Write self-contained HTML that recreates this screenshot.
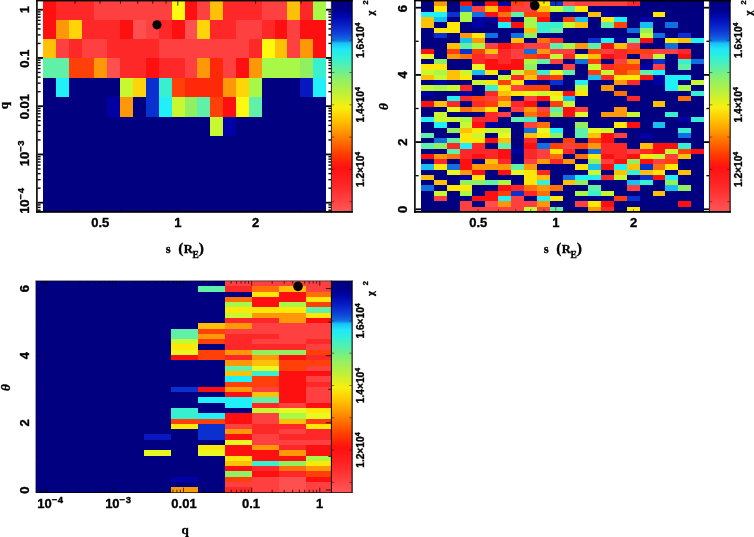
<!DOCTYPE html>
<html><head><meta charset="utf-8"><title>chi2 maps</title>
<style>html,body{margin:0;padding:0;background:#fff;}svg{display:block;}</style></head>
<body><svg width="754" height="537" viewBox="0 0 754 537">
<defs><linearGradient id="cb0" x1="0" y1="1.2" x2="0" y2="212.3" gradientUnits="userSpaceOnUse"><stop offset="0.0000" stop-color="#000080"/><stop offset="0.0379" stop-color="#00008c"/><stop offset="0.0758" stop-color="#0008b0"/><stop offset="0.1137" stop-color="#0820c8"/><stop offset="0.1516" stop-color="#1040d8"/><stop offset="0.1800" stop-color="#1068e0"/><stop offset="0.1895" stop-color="#1088e8"/><stop offset="0.1990" stop-color="#18c0f8"/><stop offset="0.2274" stop-color="#20e8f8"/><stop offset="0.2653" stop-color="#30f0d8"/><stop offset="0.3126" stop-color="#58f0a8"/><stop offset="0.3695" stop-color="#90f068"/><stop offset="0.4263" stop-color="#b8f040"/><stop offset="0.4737" stop-color="#e0f020"/><stop offset="0.5021" stop-color="#f8f010"/><stop offset="0.5685" stop-color="#ffc000"/><stop offset="0.6442" stop-color="#ff8000"/><stop offset="0.7200" stop-color="#ff4000"/><stop offset="0.7864" stop-color="#ff1010"/><stop offset="0.8764" stop-color="#ff2828"/><stop offset="0.9995" stop-color="#ff5858"/></linearGradient></defs>
<rect width="754" height="537" fill="#fff"/>
<g shape-rendering="crispEdges">
<rect x="37.00" y="0.00" width="294.50" height="212.00" fill="#fff"/>
<rect x="43.00" y="1.20" width="283.00" height="210.20" fill="#000080"/>
<rect x="43.00" y="1.20" width="12.86" height="18.50" fill="#ff1010"/>
<rect x="55.86" y="1.20" width="38.59" height="18.50" fill="#ff2828"/>
<rect x="94.46" y="1.20" width="77.18" height="18.50" fill="#ff4040"/>
<rect x="171.64" y="1.20" width="12.86" height="18.50" fill="#fff810"/>
<rect x="184.50" y="1.20" width="12.86" height="18.50" fill="#ff1010"/>
<rect x="197.37" y="1.20" width="12.86" height="18.50" fill="#ff4040"/>
<rect x="210.23" y="1.20" width="12.86" height="18.50" fill="#ffc008"/>
<rect x="223.10" y="1.20" width="38.59" height="18.50" fill="#ff2828"/>
<rect x="261.69" y="1.20" width="25.73" height="18.50" fill="#ff4040"/>
<rect x="287.42" y="1.20" width="12.86" height="18.50" fill="#ffc008"/>
<rect x="300.28" y="1.20" width="12.86" height="18.50" fill="#ff2828"/>
<rect x="313.14" y="1.20" width="12.86" height="18.50" fill="#a8f848"/>
<rect x="43.00" y="19.70" width="12.86" height="19.36" fill="#ff1010"/>
<rect x="55.86" y="19.70" width="12.86" height="19.36" fill="#ff9808"/>
<rect x="68.73" y="19.70" width="12.86" height="19.36" fill="#ffd408"/>
<rect x="81.59" y="19.70" width="38.59" height="19.36" fill="#ff2828"/>
<rect x="120.18" y="19.70" width="12.86" height="19.36" fill="#ff1010"/>
<rect x="133.05" y="19.70" width="12.86" height="19.36" fill="#ff5050"/>
<rect x="145.91" y="19.70" width="12.86" height="19.36" fill="#ff4040"/>
<rect x="158.78" y="19.70" width="12.86" height="19.36" fill="#ff2828"/>
<rect x="171.64" y="19.70" width="12.86" height="19.36" fill="#ff1010"/>
<rect x="184.50" y="19.70" width="12.86" height="19.36" fill="#ff5050"/>
<rect x="197.37" y="19.70" width="12.86" height="19.36" fill="#ffd408"/>
<rect x="210.23" y="19.70" width="25.73" height="19.36" fill="#ff2828"/>
<rect x="235.96" y="19.70" width="25.73" height="19.36" fill="#ff4040"/>
<rect x="261.69" y="19.70" width="12.86" height="19.36" fill="#ff2828"/>
<rect x="274.55" y="19.70" width="12.86" height="19.36" fill="#ff1010"/>
<rect x="287.42" y="19.70" width="12.86" height="19.36" fill="#ff4040"/>
<rect x="300.28" y="19.70" width="25.72" height="19.36" fill="#ff1010"/>
<rect x="43.00" y="39.06" width="12.86" height="19.36" fill="#ffc008"/>
<rect x="55.86" y="39.06" width="12.86" height="19.36" fill="#ff4040"/>
<rect x="68.73" y="39.06" width="12.86" height="19.36" fill="#ff2828"/>
<rect x="81.59" y="39.06" width="25.73" height="19.36" fill="#ff4040"/>
<rect x="107.32" y="39.06" width="51.46" height="19.36" fill="#ff2828"/>
<rect x="158.78" y="39.06" width="90.05" height="19.36" fill="#ff4040"/>
<rect x="248.82" y="39.06" width="12.86" height="19.36" fill="#ff2828"/>
<rect x="261.69" y="39.06" width="12.86" height="19.36" fill="#fff810"/>
<rect x="274.55" y="39.06" width="12.86" height="19.36" fill="#ffc008"/>
<rect x="287.42" y="39.06" width="12.86" height="19.36" fill="#ff4040"/>
<rect x="300.28" y="39.06" width="12.86" height="19.36" fill="#ff9808"/>
<rect x="313.14" y="39.06" width="12.86" height="19.36" fill="#ff1010"/>
<rect x="43.00" y="58.42" width="25.73" height="19.36" fill="#60f0a8"/>
<rect x="68.73" y="58.42" width="25.73" height="19.36" fill="#ff4008"/>
<rect x="94.46" y="58.42" width="12.86" height="19.36" fill="#ff9808"/>
<rect x="107.32" y="58.42" width="12.86" height="19.36" fill="#ff5050"/>
<rect x="120.18" y="58.42" width="25.73" height="19.36" fill="#ff2828"/>
<rect x="145.91" y="58.42" width="12.86" height="19.36" fill="#ff1010"/>
<rect x="158.78" y="58.42" width="25.73" height="19.36" fill="#ff2828"/>
<rect x="184.50" y="58.42" width="12.86" height="19.36" fill="#ff4040"/>
<rect x="197.37" y="58.42" width="12.86" height="19.36" fill="#ff9808"/>
<rect x="210.23" y="58.42" width="12.86" height="19.36" fill="#ff2808"/>
<rect x="223.10" y="58.42" width="12.86" height="19.36" fill="#ff4040"/>
<rect x="235.96" y="58.42" width="12.86" height="19.36" fill="#ff1010"/>
<rect x="248.82" y="58.42" width="12.86" height="19.36" fill="#ff9808"/>
<rect x="261.69" y="58.42" width="38.59" height="19.36" fill="#a8f848"/>
<rect x="300.28" y="58.42" width="12.86" height="19.36" fill="#90f060"/>
<rect x="313.14" y="58.42" width="12.86" height="19.36" fill="#38f0d0"/>
<rect x="55.86" y="77.78" width="12.86" height="19.36" fill="#20f0f8"/>
<rect x="120.18" y="77.78" width="12.86" height="19.36" fill="#c8f830"/>
<rect x="133.05" y="77.78" width="12.86" height="19.36" fill="#ffd408"/>
<rect x="145.91" y="77.78" width="12.86" height="19.36" fill="#0a30d0"/>
<rect x="158.78" y="77.78" width="12.86" height="19.36" fill="#38f0d0"/>
<rect x="171.64" y="77.78" width="12.86" height="19.36" fill="#ff4008"/>
<rect x="184.50" y="77.78" width="38.59" height="19.36" fill="#ff2808"/>
<rect x="223.10" y="77.78" width="12.86" height="19.36" fill="#ff9808"/>
<rect x="235.96" y="77.78" width="12.86" height="19.36" fill="#ffd408"/>
<rect x="248.82" y="77.78" width="12.86" height="19.36" fill="#a8f848"/>
<rect x="300.28" y="77.78" width="12.86" height="19.36" fill="#0818c0"/>
<rect x="313.14" y="77.78" width="12.86" height="19.36" fill="#20f0f8"/>
<rect x="107.32" y="97.14" width="12.86" height="19.36" fill="#0000a4"/>
<rect x="120.18" y="97.14" width="12.86" height="19.36" fill="#ff9808"/>
<rect x="145.91" y="97.14" width="12.86" height="19.36" fill="#0a30d0"/>
<rect x="158.78" y="97.14" width="12.86" height="19.36" fill="#20f0f8"/>
<rect x="171.64" y="97.14" width="12.86" height="19.36" fill="#c8f830"/>
<rect x="184.50" y="97.14" width="12.86" height="19.36" fill="#90f060"/>
<rect x="197.37" y="97.14" width="12.86" height="19.36" fill="#60f0a8"/>
<rect x="210.23" y="97.14" width="12.86" height="19.36" fill="#ff4008"/>
<rect x="223.10" y="97.14" width="12.86" height="19.36" fill="#ff1010"/>
<rect x="235.96" y="97.14" width="12.86" height="19.36" fill="#fff810"/>
<rect x="248.82" y="97.14" width="12.86" height="19.36" fill="#60f0a8"/>
<rect x="210.23" y="116.50" width="12.86" height="19.36" fill="#c8f830"/>
<rect x="223.10" y="116.50" width="12.86" height="19.36" fill="#0000a4"/>
<rect x="331.70" y="1.20" width="20.10" height="210.30" fill="url(#cb0)"/>
<rect x="415.00" y="0.00" width="294.50" height="212.00" fill="#fff"/>
<rect x="421.00" y="1.20" width="283.00" height="210.20" fill="#000080"/>
<rect x="433.86" y="1.20" width="12.86" height="5.26" fill="#ff9808"/>
<rect x="459.59" y="1.20" width="12.86" height="5.26" fill="#ff1010"/>
<rect x="485.32" y="1.20" width="12.86" height="5.26" fill="#ff1010"/>
<rect x="498.18" y="1.20" width="12.86" height="5.26" fill="#0000a4"/>
<rect x="511.05" y="1.20" width="12.86" height="5.26" fill="#ff4008"/>
<rect x="523.91" y="1.20" width="12.86" height="5.26" fill="#ff4040"/>
<rect x="536.78" y="1.20" width="12.86" height="5.26" fill="#ffe808"/>
<rect x="549.64" y="1.20" width="12.86" height="5.26" fill="#0a30d0"/>
<rect x="562.50" y="1.20" width="12.86" height="5.26" fill="#ff5050"/>
<rect x="575.37" y="1.20" width="51.46" height="5.26" fill="#ff4040"/>
<rect x="626.82" y="1.20" width="12.86" height="5.26" fill="#ff2828"/>
<rect x="433.86" y="6.46" width="12.86" height="5.26" fill="#ffe808"/>
<rect x="459.59" y="6.46" width="12.86" height="5.26" fill="#1070e0"/>
<rect x="472.46" y="6.46" width="12.86" height="5.26" fill="#ff4040"/>
<rect x="485.32" y="6.46" width="12.86" height="5.26" fill="#ffc008"/>
<rect x="498.18" y="6.46" width="12.86" height="5.26" fill="#ff1010"/>
<rect x="511.05" y="6.46" width="25.73" height="5.26" fill="#ff4040"/>
<rect x="536.78" y="6.46" width="12.86" height="5.26" fill="#ffc008"/>
<rect x="549.64" y="6.46" width="12.86" height="5.26" fill="#c8f830"/>
<rect x="562.50" y="6.46" width="12.86" height="5.26" fill="#60f0a8"/>
<rect x="575.37" y="6.46" width="12.86" height="5.26" fill="#ffe808"/>
<rect x="421.00" y="11.73" width="25.73" height="5.26" fill="#20f0f8"/>
<rect x="446.73" y="11.73" width="12.86" height="5.26" fill="#0a30d0"/>
<rect x="459.59" y="11.73" width="12.86" height="5.26" fill="#a8f848"/>
<rect x="472.46" y="11.73" width="12.86" height="5.26" fill="#1070e0"/>
<rect x="485.32" y="11.73" width="12.86" height="5.26" fill="#ff1010"/>
<rect x="498.18" y="11.73" width="12.86" height="5.26" fill="#ff7008"/>
<rect x="511.05" y="11.73" width="12.86" height="5.26" fill="#60f0a8"/>
<rect x="523.91" y="11.73" width="25.73" height="5.26" fill="#ff4008"/>
<rect x="588.23" y="11.73" width="12.86" height="5.26" fill="#ffc008"/>
<rect x="601.10" y="11.73" width="12.86" height="5.26" fill="#0000a4"/>
<rect x="652.55" y="11.73" width="12.86" height="5.26" fill="#ffe808"/>
<rect x="421.00" y="16.99" width="12.86" height="5.27" fill="#ffc008"/>
<rect x="433.86" y="16.99" width="12.86" height="5.27" fill="#18c0f0"/>
<rect x="459.59" y="16.99" width="12.86" height="5.27" fill="#a8f848"/>
<rect x="472.46" y="16.99" width="25.73" height="5.27" fill="#0000a4"/>
<rect x="498.18" y="16.99" width="12.86" height="5.27" fill="#ff1010"/>
<rect x="523.91" y="16.99" width="12.86" height="5.27" fill="#a8f848"/>
<rect x="536.78" y="16.99" width="12.86" height="5.27" fill="#ff1010"/>
<rect x="562.50" y="16.99" width="12.86" height="5.27" fill="#ff4008"/>
<rect x="575.37" y="16.99" width="12.86" height="5.27" fill="#18c0f0"/>
<rect x="601.10" y="16.99" width="12.86" height="5.27" fill="#ffe808"/>
<rect x="613.96" y="16.99" width="12.86" height="5.27" fill="#20f0f8"/>
<rect x="639.69" y="16.99" width="12.86" height="5.27" fill="#0000a4"/>
<rect x="421.00" y="22.26" width="12.86" height="5.27" fill="#ffc008"/>
<rect x="446.73" y="22.26" width="12.86" height="5.27" fill="#ffe808"/>
<rect x="472.46" y="22.26" width="12.86" height="5.27" fill="#0000a4"/>
<rect x="498.18" y="22.26" width="12.86" height="5.27" fill="#20f0f8"/>
<rect x="511.05" y="22.26" width="12.86" height="5.27" fill="#ff1010"/>
<rect x="523.91" y="22.26" width="12.86" height="5.27" fill="#a8f848"/>
<rect x="536.78" y="22.26" width="25.73" height="5.27" fill="#38f0d0"/>
<rect x="562.50" y="22.26" width="12.86" height="5.27" fill="#c8f830"/>
<rect x="575.37" y="22.26" width="12.86" height="5.27" fill="#ffc008"/>
<rect x="601.10" y="22.26" width="12.86" height="5.27" fill="#60f0a8"/>
<rect x="613.96" y="22.26" width="12.86" height="5.27" fill="#ff4008"/>
<rect x="639.69" y="22.26" width="12.86" height="5.27" fill="#18c0f0"/>
<rect x="665.42" y="22.26" width="12.86" height="5.27" fill="#1070e0"/>
<rect x="433.86" y="27.52" width="25.73" height="5.27" fill="#ffe808"/>
<rect x="523.91" y="27.52" width="12.86" height="5.27" fill="#ffc008"/>
<rect x="536.78" y="27.52" width="12.86" height="5.27" fill="#38f0d0"/>
<rect x="549.64" y="27.52" width="12.86" height="5.27" fill="#60f0a8"/>
<rect x="626.82" y="27.52" width="12.86" height="5.27" fill="#1070e0"/>
<rect x="639.69" y="27.52" width="12.86" height="5.27" fill="#90f060"/>
<rect x="433.86" y="32.79" width="12.86" height="5.27" fill="#0a30d0"/>
<rect x="459.59" y="32.79" width="12.86" height="5.27" fill="#ff9808"/>
<rect x="472.46" y="32.79" width="12.86" height="5.27" fill="#ffe808"/>
<rect x="485.32" y="32.79" width="12.86" height="5.27" fill="#1070e0"/>
<rect x="511.05" y="32.79" width="12.86" height="5.27" fill="#1070e0"/>
<rect x="523.91" y="32.79" width="12.86" height="5.27" fill="#90f060"/>
<rect x="639.69" y="32.79" width="12.86" height="5.27" fill="#c8f830"/>
<rect x="652.55" y="32.79" width="12.86" height="5.27" fill="#1070e0"/>
<rect x="678.28" y="32.79" width="12.86" height="5.27" fill="#0a30d0"/>
<rect x="459.59" y="38.05" width="12.86" height="5.27" fill="#18c0f0"/>
<rect x="472.46" y="38.05" width="12.86" height="5.27" fill="#ff9808"/>
<rect x="511.05" y="38.05" width="12.86" height="5.27" fill="#ffc008"/>
<rect x="536.78" y="38.05" width="12.86" height="5.27" fill="#ff7008"/>
<rect x="549.64" y="38.05" width="12.86" height="5.27" fill="#ff2828"/>
<rect x="588.23" y="38.05" width="12.86" height="5.27" fill="#0a30d0"/>
<rect x="601.10" y="38.05" width="12.86" height="5.27" fill="#20f0f8"/>
<rect x="613.96" y="38.05" width="12.86" height="5.27" fill="#0000a4"/>
<rect x="626.82" y="38.05" width="12.86" height="5.27" fill="#60f0a8"/>
<rect x="639.69" y="38.05" width="12.86" height="5.27" fill="#ff1010"/>
<rect x="665.42" y="38.05" width="12.86" height="5.27" fill="#ffe808"/>
<rect x="678.28" y="38.05" width="12.86" height="5.27" fill="#ffc008"/>
<rect x="691.14" y="38.05" width="12.86" height="5.27" fill="#20f0f8"/>
<rect x="446.73" y="43.32" width="12.86" height="5.27" fill="#ffc008"/>
<rect x="459.59" y="43.32" width="12.86" height="5.27" fill="#60f0a8"/>
<rect x="472.46" y="43.32" width="12.86" height="5.27" fill="#a8f848"/>
<rect x="485.32" y="43.32" width="12.86" height="5.27" fill="#ff4040"/>
<rect x="498.18" y="43.32" width="12.86" height="5.27" fill="#ff1010"/>
<rect x="511.05" y="43.32" width="12.86" height="5.27" fill="#ff2828"/>
<rect x="523.91" y="43.32" width="25.73" height="5.27" fill="#ff4040"/>
<rect x="549.64" y="43.32" width="12.86" height="5.27" fill="#60f0a8"/>
<rect x="562.50" y="43.32" width="12.86" height="5.27" fill="#a8f848"/>
<rect x="575.37" y="43.32" width="12.86" height="5.27" fill="#ff9808"/>
<rect x="588.23" y="43.32" width="12.86" height="5.27" fill="#60f0a8"/>
<rect x="601.10" y="43.32" width="12.86" height="5.27" fill="#ff1010"/>
<rect x="613.96" y="43.32" width="12.86" height="5.27" fill="#ffc008"/>
<rect x="626.82" y="43.32" width="12.86" height="5.27" fill="#ff4040"/>
<rect x="665.42" y="43.32" width="12.86" height="5.27" fill="#1070e0"/>
<rect x="421.00" y="48.59" width="12.86" height="5.27" fill="#ff1010"/>
<rect x="446.73" y="48.59" width="12.86" height="5.27" fill="#ff4008"/>
<rect x="459.59" y="48.59" width="12.86" height="5.27" fill="#0a30d0"/>
<rect x="472.46" y="48.59" width="12.86" height="5.27" fill="#ff4008"/>
<rect x="485.32" y="48.59" width="12.86" height="5.27" fill="#ffc008"/>
<rect x="498.18" y="48.59" width="12.86" height="5.27" fill="#ff2828"/>
<rect x="511.05" y="48.59" width="12.86" height="5.27" fill="#ff4040"/>
<rect x="523.91" y="48.59" width="12.86" height="5.27" fill="#1070e0"/>
<rect x="536.78" y="48.59" width="12.86" height="5.27" fill="#ff9808"/>
<rect x="549.64" y="48.59" width="25.73" height="5.27" fill="#ff4040"/>
<rect x="588.23" y="48.59" width="12.86" height="5.27" fill="#ff4008"/>
<rect x="601.10" y="48.59" width="12.86" height="5.27" fill="#ff4040"/>
<rect x="613.96" y="48.59" width="12.86" height="5.27" fill="#ff2828"/>
<rect x="626.82" y="48.59" width="25.73" height="5.27" fill="#ff4008"/>
<rect x="652.55" y="48.59" width="25.73" height="5.27" fill="#ff4040"/>
<rect x="678.28" y="48.59" width="12.86" height="5.27" fill="#ff2828"/>
<rect x="421.00" y="53.85" width="12.86" height="5.27" fill="#e8f820"/>
<rect x="446.73" y="53.85" width="12.86" height="5.27" fill="#ff9808"/>
<rect x="459.59" y="53.85" width="12.86" height="5.27" fill="#ff7008"/>
<rect x="472.46" y="53.85" width="12.86" height="5.27" fill="#ff2828"/>
<rect x="485.32" y="53.85" width="12.86" height="5.27" fill="#ff4040"/>
<rect x="498.18" y="53.85" width="12.86" height="5.27" fill="#ff2828"/>
<rect x="511.05" y="53.85" width="12.86" height="5.27" fill="#ff4040"/>
<rect x="523.91" y="53.85" width="12.86" height="5.27" fill="#ff4008"/>
<rect x="536.78" y="53.85" width="12.86" height="5.27" fill="#ff2828"/>
<rect x="549.64" y="53.85" width="12.86" height="5.27" fill="#c8f830"/>
<rect x="562.50" y="53.85" width="12.86" height="5.27" fill="#ff2828"/>
<rect x="575.37" y="53.85" width="12.86" height="5.27" fill="#e8f820"/>
<rect x="588.23" y="53.85" width="12.86" height="5.27" fill="#ffc008"/>
<rect x="601.10" y="53.85" width="12.86" height="5.27" fill="#ff1010"/>
<rect x="613.96" y="53.85" width="12.86" height="5.27" fill="#ff2828"/>
<rect x="639.69" y="53.85" width="12.86" height="5.27" fill="#ff4040"/>
<rect x="652.55" y="53.85" width="12.86" height="5.27" fill="#c8f830"/>
<rect x="678.28" y="53.85" width="12.86" height="5.27" fill="#ff1010"/>
<rect x="433.86" y="59.12" width="12.86" height="5.26" fill="#90f060"/>
<rect x="472.46" y="59.12" width="12.86" height="5.26" fill="#ff2828"/>
<rect x="485.32" y="59.12" width="12.86" height="5.26" fill="#ff1010"/>
<rect x="498.18" y="59.12" width="12.86" height="5.26" fill="#ff2828"/>
<rect x="511.05" y="59.12" width="12.86" height="5.26" fill="#ff1010"/>
<rect x="523.91" y="59.12" width="12.86" height="5.26" fill="#a8f848"/>
<rect x="536.78" y="59.12" width="12.86" height="5.26" fill="#60f0a8"/>
<rect x="549.64" y="59.12" width="12.86" height="5.26" fill="#ff4040"/>
<rect x="575.37" y="59.12" width="12.86" height="5.26" fill="#1070e0"/>
<rect x="588.23" y="59.12" width="12.86" height="5.26" fill="#ff4008"/>
<rect x="613.96" y="59.12" width="12.86" height="5.26" fill="#ff4040"/>
<rect x="626.82" y="59.12" width="12.86" height="5.26" fill="#ff9808"/>
<rect x="652.55" y="59.12" width="12.86" height="5.26" fill="#0a30d0"/>
<rect x="678.28" y="59.12" width="12.86" height="5.26" fill="#38f0d0"/>
<rect x="691.14" y="59.12" width="12.86" height="5.26" fill="#1070e0"/>
<rect x="421.00" y="64.38" width="25.73" height="5.27" fill="#ffe808"/>
<rect x="472.46" y="64.38" width="12.86" height="5.27" fill="#e8f820"/>
<rect x="485.32" y="64.38" width="38.59" height="5.27" fill="#ff1010"/>
<rect x="523.91" y="64.38" width="12.86" height="5.27" fill="#90f060"/>
<rect x="562.50" y="64.38" width="12.86" height="5.27" fill="#ff4040"/>
<rect x="588.23" y="64.38" width="12.86" height="5.27" fill="#c8f830"/>
<rect x="601.10" y="64.38" width="12.86" height="5.27" fill="#ff2828"/>
<rect x="613.96" y="64.38" width="25.73" height="5.27" fill="#ff4008"/>
<rect x="639.69" y="64.38" width="12.86" height="5.27" fill="#0000a4"/>
<rect x="652.55" y="64.38" width="12.86" height="5.27" fill="#ff4040"/>
<rect x="678.28" y="64.38" width="12.86" height="5.27" fill="#60f0a8"/>
<rect x="421.00" y="69.64" width="12.86" height="5.27" fill="#c8f830"/>
<rect x="433.86" y="69.64" width="12.86" height="5.27" fill="#a8f848"/>
<rect x="446.73" y="69.64" width="12.86" height="5.27" fill="#ffc008"/>
<rect x="459.59" y="69.64" width="12.86" height="5.27" fill="#c8f830"/>
<rect x="472.46" y="69.64" width="12.86" height="5.27" fill="#18c0f0"/>
<rect x="485.32" y="69.64" width="12.86" height="5.27" fill="#ffe808"/>
<rect x="511.05" y="69.64" width="12.86" height="5.27" fill="#c8f830"/>
<rect x="523.91" y="69.64" width="12.86" height="5.27" fill="#ff9808"/>
<rect x="536.78" y="69.64" width="12.86" height="5.27" fill="#38f0d0"/>
<rect x="549.64" y="69.64" width="12.86" height="5.27" fill="#e8f820"/>
<rect x="562.50" y="69.64" width="12.86" height="5.27" fill="#60f0a8"/>
<rect x="588.23" y="69.64" width="12.86" height="5.27" fill="#ff4008"/>
<rect x="601.10" y="69.64" width="12.86" height="5.27" fill="#c8f830"/>
<rect x="613.96" y="69.64" width="12.86" height="5.27" fill="#ff4008"/>
<rect x="626.82" y="69.64" width="12.86" height="5.27" fill="#ff7008"/>
<rect x="639.69" y="69.64" width="12.86" height="5.27" fill="#60f0a8"/>
<rect x="652.55" y="69.64" width="12.86" height="5.27" fill="#20f0f8"/>
<rect x="421.00" y="74.91" width="12.86" height="5.27" fill="#ffc008"/>
<rect x="433.86" y="74.91" width="12.86" height="5.27" fill="#c8f830"/>
<rect x="446.73" y="74.91" width="12.86" height="5.27" fill="#ffc008"/>
<rect x="459.59" y="74.91" width="12.86" height="5.27" fill="#ffe808"/>
<rect x="498.18" y="74.91" width="12.86" height="5.27" fill="#c8f830"/>
<rect x="511.05" y="74.91" width="12.86" height="5.27" fill="#ff2828"/>
<rect x="523.91" y="74.91" width="12.86" height="5.27" fill="#ffc008"/>
<rect x="536.78" y="74.91" width="12.86" height="5.27" fill="#ff2828"/>
<rect x="549.64" y="74.91" width="12.86" height="5.27" fill="#ff4008"/>
<rect x="588.23" y="74.91" width="12.86" height="5.27" fill="#18c0f0"/>
<rect x="601.10" y="74.91" width="12.86" height="5.27" fill="#ff2828"/>
<rect x="613.96" y="74.91" width="25.73" height="5.27" fill="#ffe808"/>
<rect x="639.69" y="74.91" width="12.86" height="5.27" fill="#ff1010"/>
<rect x="652.55" y="74.91" width="12.86" height="5.27" fill="#0000a4"/>
<rect x="665.42" y="74.91" width="25.73" height="5.27" fill="#20f0f8"/>
<rect x="433.86" y="80.17" width="12.86" height="5.27" fill="#0000a4"/>
<rect x="472.46" y="80.17" width="12.86" height="5.27" fill="#c8f830"/>
<rect x="485.32" y="80.17" width="12.86" height="5.27" fill="#ffe808"/>
<rect x="498.18" y="80.17" width="12.86" height="5.27" fill="#ff4008"/>
<rect x="511.05" y="80.17" width="12.86" height="5.27" fill="#ffe808"/>
<rect x="523.91" y="80.17" width="12.86" height="5.27" fill="#0000a4"/>
<rect x="549.64" y="80.17" width="12.86" height="5.27" fill="#0a30d0"/>
<rect x="575.37" y="80.17" width="12.86" height="5.27" fill="#20f0f8"/>
<rect x="613.96" y="80.17" width="12.86" height="5.27" fill="#ff9808"/>
<rect x="626.82" y="80.17" width="12.86" height="5.27" fill="#ff2828"/>
<rect x="652.55" y="80.17" width="12.86" height="5.27" fill="#0000a4"/>
<rect x="665.42" y="80.17" width="12.86" height="5.27" fill="#20f0f8"/>
<rect x="691.14" y="80.17" width="12.86" height="5.27" fill="#c8f830"/>
<rect x="421.00" y="85.44" width="12.86" height="5.27" fill="#c8f830"/>
<rect x="433.86" y="85.44" width="12.86" height="5.27" fill="#a8f848"/>
<rect x="446.73" y="85.44" width="12.86" height="5.27" fill="#c8f830"/>
<rect x="459.59" y="85.44" width="12.86" height="5.27" fill="#ff2828"/>
<rect x="485.32" y="85.44" width="12.86" height="5.27" fill="#38f0d0"/>
<rect x="498.18" y="85.44" width="12.86" height="5.27" fill="#ffe808"/>
<rect x="511.05" y="85.44" width="12.86" height="5.27" fill="#ff4040"/>
<rect x="523.91" y="85.44" width="25.73" height="5.27" fill="#ff4008"/>
<rect x="575.37" y="85.44" width="12.86" height="5.27" fill="#c8f830"/>
<rect x="601.10" y="85.44" width="12.86" height="5.27" fill="#ff9808"/>
<rect x="665.42" y="85.44" width="12.86" height="5.27" fill="#20f0f8"/>
<rect x="678.28" y="85.44" width="12.86" height="5.27" fill="#a8f848"/>
<rect x="421.00" y="90.70" width="12.86" height="5.27" fill="#0000a4"/>
<rect x="459.59" y="90.70" width="12.86" height="5.27" fill="#0000a4"/>
<rect x="485.32" y="90.70" width="12.86" height="5.27" fill="#ff2828"/>
<rect x="498.18" y="90.70" width="12.86" height="5.27" fill="#ffc008"/>
<rect x="511.05" y="90.70" width="12.86" height="5.27" fill="#ffe808"/>
<rect x="523.91" y="90.70" width="12.86" height="5.27" fill="#e8f820"/>
<rect x="536.78" y="90.70" width="12.86" height="5.27" fill="#c8f830"/>
<rect x="549.64" y="90.70" width="12.86" height="5.27" fill="#ffe808"/>
<rect x="562.50" y="90.70" width="12.86" height="5.27" fill="#ff1010"/>
<rect x="575.37" y="90.70" width="12.86" height="5.27" fill="#ffe808"/>
<rect x="613.96" y="90.70" width="12.86" height="5.27" fill="#ff7008"/>
<rect x="691.14" y="90.70" width="12.86" height="5.27" fill="#38f0d0"/>
<rect x="446.73" y="95.97" width="12.86" height="5.27" fill="#20f0f8"/>
<rect x="459.59" y="95.97" width="12.86" height="5.27" fill="#ff2828"/>
<rect x="472.46" y="95.97" width="12.86" height="5.27" fill="#ff4008"/>
<rect x="485.32" y="95.97" width="12.86" height="5.27" fill="#ff4040"/>
<rect x="498.18" y="95.97" width="12.86" height="5.27" fill="#ff7008"/>
<rect x="523.91" y="95.97" width="12.86" height="5.27" fill="#ff4040"/>
<rect x="536.78" y="95.97" width="12.86" height="5.27" fill="#ff1010"/>
<rect x="549.64" y="95.97" width="12.86" height="5.27" fill="#e8f820"/>
<rect x="562.50" y="95.97" width="12.86" height="5.27" fill="#18c0f0"/>
<rect x="626.82" y="95.97" width="12.86" height="5.27" fill="#ff2828"/>
<rect x="678.28" y="95.97" width="12.86" height="5.27" fill="#ff7008"/>
<rect x="421.00" y="101.23" width="12.86" height="5.27" fill="#ff1010"/>
<rect x="433.86" y="101.23" width="12.86" height="5.27" fill="#ffc008"/>
<rect x="446.73" y="101.23" width="12.86" height="5.27" fill="#ff2828"/>
<rect x="472.46" y="101.23" width="12.86" height="5.27" fill="#ff2828"/>
<rect x="485.32" y="101.23" width="12.86" height="5.27" fill="#ff4008"/>
<rect x="498.18" y="101.23" width="12.86" height="5.27" fill="#ffc008"/>
<rect x="511.05" y="101.23" width="12.86" height="5.27" fill="#ff2828"/>
<rect x="523.91" y="101.23" width="12.86" height="5.27" fill="#ff1010"/>
<rect x="549.64" y="101.23" width="12.86" height="5.27" fill="#ff4008"/>
<rect x="562.50" y="101.23" width="12.86" height="5.27" fill="#c8f830"/>
<rect x="652.55" y="101.23" width="12.86" height="5.27" fill="#ffc008"/>
<rect x="446.73" y="106.50" width="12.86" height="5.27" fill="#e8f820"/>
<rect x="459.59" y="106.50" width="12.86" height="5.27" fill="#ff7008"/>
<rect x="472.46" y="106.50" width="12.86" height="5.27" fill="#ff9808"/>
<rect x="485.32" y="106.50" width="12.86" height="5.27" fill="#ffe808"/>
<rect x="511.05" y="106.50" width="12.86" height="5.27" fill="#ff4040"/>
<rect x="523.91" y="106.50" width="12.86" height="5.27" fill="#ff9808"/>
<rect x="536.78" y="106.50" width="12.86" height="5.27" fill="#ff4040"/>
<rect x="549.64" y="106.50" width="12.86" height="5.27" fill="#60f0a8"/>
<rect x="562.50" y="106.50" width="12.86" height="5.27" fill="#ff1010"/>
<rect x="575.37" y="106.50" width="12.86" height="5.27" fill="#ff4040"/>
<rect x="613.96" y="106.50" width="12.86" height="5.27" fill="#ff9808"/>
<rect x="433.86" y="111.77" width="12.86" height="5.27" fill="#c8f830"/>
<rect x="485.32" y="111.77" width="12.86" height="5.27" fill="#ff2828"/>
<rect x="498.18" y="111.77" width="12.86" height="5.27" fill="#ff4040"/>
<rect x="523.91" y="111.77" width="12.86" height="5.27" fill="#ff7008"/>
<rect x="536.78" y="111.77" width="12.86" height="5.27" fill="#ff4008"/>
<rect x="549.64" y="111.77" width="12.86" height="5.27" fill="#90f060"/>
<rect x="562.50" y="111.77" width="12.86" height="5.27" fill="#ff1010"/>
<rect x="575.37" y="111.77" width="12.86" height="5.27" fill="#e8f820"/>
<rect x="601.10" y="111.77" width="25.73" height="5.27" fill="#ff9808"/>
<rect x="626.82" y="111.77" width="12.86" height="5.27" fill="#c8f830"/>
<rect x="665.42" y="111.77" width="12.86" height="5.27" fill="#38f0d0"/>
<rect x="421.00" y="117.03" width="12.86" height="5.27" fill="#20f0f8"/>
<rect x="433.86" y="117.03" width="25.73" height="5.27" fill="#c8f830"/>
<rect x="459.59" y="117.03" width="12.86" height="5.27" fill="#a8f848"/>
<rect x="472.46" y="117.03" width="25.73" height="5.27" fill="#ff2828"/>
<rect x="511.05" y="117.03" width="12.86" height="5.27" fill="#60f0a8"/>
<rect x="523.91" y="117.03" width="12.86" height="5.27" fill="#38f0d0"/>
<rect x="678.28" y="117.03" width="12.86" height="5.27" fill="#0000a4"/>
<rect x="691.14" y="117.03" width="12.86" height="5.27" fill="#38f0d0"/>
<rect x="433.86" y="122.30" width="12.86" height="5.26" fill="#20f0f8"/>
<rect x="459.59" y="122.30" width="12.86" height="5.26" fill="#c8f830"/>
<rect x="472.46" y="122.30" width="12.86" height="5.26" fill="#ff1010"/>
<rect x="485.32" y="122.30" width="12.86" height="5.26" fill="#0000a4"/>
<rect x="523.91" y="122.30" width="12.86" height="5.26" fill="#ff4040"/>
<rect x="536.78" y="122.30" width="12.86" height="5.26" fill="#ff7008"/>
<rect x="575.37" y="122.30" width="12.86" height="5.26" fill="#90f060"/>
<rect x="613.96" y="122.30" width="12.86" height="5.26" fill="#ffe808"/>
<rect x="626.82" y="122.30" width="12.86" height="5.26" fill="#ff1010"/>
<rect x="652.55" y="122.30" width="12.86" height="5.26" fill="#18c0f0"/>
<rect x="446.73" y="127.56" width="12.86" height="5.27" fill="#90f060"/>
<rect x="459.59" y="127.56" width="12.86" height="5.27" fill="#ffc008"/>
<rect x="472.46" y="127.56" width="12.86" height="5.27" fill="#ffe808"/>
<rect x="485.32" y="127.56" width="25.73" height="5.27" fill="#c8f830"/>
<rect x="523.91" y="127.56" width="12.86" height="5.27" fill="#1070e0"/>
<rect x="536.78" y="127.56" width="12.86" height="5.27" fill="#e8f820"/>
<rect x="549.64" y="127.56" width="12.86" height="5.27" fill="#20f0f8"/>
<rect x="575.37" y="127.56" width="12.86" height="5.27" fill="#60f0a8"/>
<rect x="588.23" y="127.56" width="12.86" height="5.27" fill="#e8f820"/>
<rect x="601.10" y="127.56" width="12.86" height="5.27" fill="#c8f830"/>
<rect x="678.28" y="127.56" width="12.86" height="5.27" fill="#38f0d0"/>
<rect x="421.00" y="132.82" width="12.86" height="5.26" fill="#60f0a8"/>
<rect x="459.59" y="132.82" width="12.86" height="5.26" fill="#ffe808"/>
<rect x="472.46" y="132.82" width="12.86" height="5.26" fill="#c8f830"/>
<rect x="498.18" y="132.82" width="12.86" height="5.26" fill="#e8f820"/>
<rect x="523.91" y="132.82" width="12.86" height="5.26" fill="#ffc008"/>
<rect x="536.78" y="132.82" width="12.86" height="5.26" fill="#ffe808"/>
<rect x="549.64" y="132.82" width="12.86" height="5.26" fill="#90f060"/>
<rect x="575.37" y="132.82" width="12.86" height="5.26" fill="#60f0a8"/>
<rect x="588.23" y="132.82" width="12.86" height="5.26" fill="#ffc008"/>
<rect x="601.10" y="132.82" width="12.86" height="5.26" fill="#ff1010"/>
<rect x="613.96" y="132.82" width="12.86" height="5.26" fill="#ff4040"/>
<rect x="639.69" y="132.82" width="12.86" height="5.26" fill="#0000a4"/>
<rect x="678.28" y="132.82" width="12.86" height="5.26" fill="#1070e0"/>
<rect x="433.86" y="138.09" width="12.86" height="5.27" fill="#1070e0"/>
<rect x="446.73" y="138.09" width="12.86" height="5.27" fill="#60f0a8"/>
<rect x="459.59" y="138.09" width="25.73" height="5.27" fill="#ffe808"/>
<rect x="485.32" y="138.09" width="12.86" height="5.27" fill="#ff1010"/>
<rect x="498.18" y="138.09" width="12.86" height="5.27" fill="#ffc008"/>
<rect x="523.91" y="138.09" width="12.86" height="5.27" fill="#ff2828"/>
<rect x="562.50" y="138.09" width="12.86" height="5.27" fill="#ff4008"/>
<rect x="588.23" y="138.09" width="12.86" height="5.27" fill="#ff4008"/>
<rect x="601.10" y="138.09" width="12.86" height="5.27" fill="#ff1010"/>
<rect x="421.00" y="143.35" width="12.86" height="5.26" fill="#60f0a8"/>
<rect x="433.86" y="143.35" width="12.86" height="5.26" fill="#90f060"/>
<rect x="446.73" y="143.35" width="12.86" height="5.26" fill="#ff2828"/>
<rect x="459.59" y="143.35" width="12.86" height="5.26" fill="#20f0f8"/>
<rect x="472.46" y="143.35" width="12.86" height="5.26" fill="#ff2828"/>
<rect x="498.18" y="143.35" width="12.86" height="5.26" fill="#60f0a8"/>
<rect x="523.91" y="143.35" width="12.86" height="5.26" fill="#ff1010"/>
<rect x="536.78" y="143.35" width="12.86" height="5.26" fill="#1070e0"/>
<rect x="549.64" y="143.35" width="12.86" height="5.26" fill="#ff4008"/>
<rect x="562.50" y="143.35" width="12.86" height="5.26" fill="#ff4040"/>
<rect x="575.37" y="143.35" width="12.86" height="5.26" fill="#ff4008"/>
<rect x="588.23" y="143.35" width="12.86" height="5.26" fill="#ff9808"/>
<rect x="601.10" y="143.35" width="25.73" height="5.26" fill="#ff2828"/>
<rect x="639.69" y="143.35" width="12.86" height="5.26" fill="#ffc008"/>
<rect x="652.55" y="143.35" width="25.73" height="5.26" fill="#ff1010"/>
<rect x="678.28" y="143.35" width="12.86" height="5.26" fill="#38f0d0"/>
<rect x="446.73" y="148.62" width="12.86" height="5.27" fill="#60f0a8"/>
<rect x="459.59" y="148.62" width="38.59" height="5.27" fill="#ff2828"/>
<rect x="498.18" y="148.62" width="12.86" height="5.27" fill="#ff1010"/>
<rect x="511.05" y="148.62" width="12.86" height="5.27" fill="#0000a4"/>
<rect x="523.91" y="148.62" width="12.86" height="5.27" fill="#ff2828"/>
<rect x="536.78" y="148.62" width="12.86" height="5.27" fill="#ff4040"/>
<rect x="549.64" y="148.62" width="12.86" height="5.27" fill="#ffe808"/>
<rect x="562.50" y="148.62" width="12.86" height="5.27" fill="#ff2828"/>
<rect x="588.23" y="148.62" width="12.86" height="5.27" fill="#1070e0"/>
<rect x="601.10" y="148.62" width="25.73" height="5.27" fill="#ff2828"/>
<rect x="626.82" y="148.62" width="12.86" height="5.27" fill="#ff4040"/>
<rect x="639.69" y="148.62" width="12.86" height="5.27" fill="#ff2828"/>
<rect x="652.55" y="148.62" width="12.86" height="5.27" fill="#ff1010"/>
<rect x="665.42" y="148.62" width="12.86" height="5.27" fill="#c8f830"/>
<rect x="678.28" y="148.62" width="12.86" height="5.27" fill="#ff4008"/>
<rect x="691.14" y="148.62" width="12.86" height="5.27" fill="#ff1010"/>
<rect x="421.00" y="153.88" width="12.86" height="5.26" fill="#ff1010"/>
<rect x="433.86" y="153.88" width="12.86" height="5.26" fill="#ff9808"/>
<rect x="446.73" y="153.88" width="12.86" height="5.26" fill="#ff7008"/>
<rect x="459.59" y="153.88" width="12.86" height="5.26" fill="#ff2828"/>
<rect x="472.46" y="153.88" width="12.86" height="5.26" fill="#ff1010"/>
<rect x="485.32" y="153.88" width="12.86" height="5.26" fill="#ff2828"/>
<rect x="498.18" y="153.88" width="12.86" height="5.26" fill="#ff1010"/>
<rect x="523.91" y="153.88" width="12.86" height="5.26" fill="#ff2828"/>
<rect x="536.78" y="153.88" width="12.86" height="5.26" fill="#ff4040"/>
<rect x="549.64" y="153.88" width="12.86" height="5.26" fill="#ff7008"/>
<rect x="575.37" y="153.88" width="12.86" height="5.26" fill="#ff7008"/>
<rect x="588.23" y="153.88" width="12.86" height="5.26" fill="#ffe808"/>
<rect x="601.10" y="153.88" width="12.86" height="5.26" fill="#ff1010"/>
<rect x="613.96" y="153.88" width="12.86" height="5.26" fill="#ff2828"/>
<rect x="626.82" y="153.88" width="12.86" height="5.26" fill="#ff1010"/>
<rect x="639.69" y="153.88" width="12.86" height="5.26" fill="#ffe808"/>
<rect x="652.55" y="153.88" width="12.86" height="5.26" fill="#c8f830"/>
<rect x="665.42" y="153.88" width="12.86" height="5.26" fill="#ff4040"/>
<rect x="678.28" y="153.88" width="12.86" height="5.26" fill="#ffc008"/>
<rect x="433.86" y="159.15" width="12.86" height="5.27" fill="#ff2828"/>
<rect x="459.59" y="159.15" width="12.86" height="5.27" fill="#ff1010"/>
<rect x="485.32" y="159.15" width="12.86" height="5.27" fill="#ffc008"/>
<rect x="498.18" y="159.15" width="12.86" height="5.27" fill="#ff2828"/>
<rect x="523.91" y="159.15" width="12.86" height="5.27" fill="#ff4040"/>
<rect x="536.78" y="159.15" width="12.86" height="5.27" fill="#ff9808"/>
<rect x="549.64" y="159.15" width="12.86" height="5.27" fill="#ff2828"/>
<rect x="562.50" y="159.15" width="12.86" height="5.27" fill="#ff9808"/>
<rect x="588.23" y="159.15" width="12.86" height="5.27" fill="#90f060"/>
<rect x="601.10" y="159.15" width="12.86" height="5.27" fill="#ff4040"/>
<rect x="613.96" y="159.15" width="12.86" height="5.27" fill="#ff1010"/>
<rect x="626.82" y="159.15" width="12.86" height="5.27" fill="#90f060"/>
<rect x="639.69" y="159.15" width="12.86" height="5.27" fill="#ff1010"/>
<rect x="652.55" y="159.15" width="12.86" height="5.27" fill="#ff4040"/>
<rect x="665.42" y="159.15" width="12.86" height="5.27" fill="#ff4008"/>
<rect x="421.00" y="164.41" width="12.86" height="5.26" fill="#18c0f0"/>
<rect x="433.86" y="164.41" width="12.86" height="5.26" fill="#ffe808"/>
<rect x="446.73" y="164.41" width="12.86" height="5.26" fill="#1070e0"/>
<rect x="459.59" y="164.41" width="12.86" height="5.26" fill="#ff1010"/>
<rect x="472.46" y="164.41" width="38.59" height="5.26" fill="#ff9808"/>
<rect x="511.05" y="164.41" width="12.86" height="5.26" fill="#60f0a8"/>
<rect x="523.91" y="164.41" width="12.86" height="5.26" fill="#ff9808"/>
<rect x="575.37" y="164.41" width="12.86" height="5.26" fill="#ffe808"/>
<rect x="588.23" y="164.41" width="12.86" height="5.26" fill="#18c0f0"/>
<rect x="601.10" y="164.41" width="12.86" height="5.26" fill="#ff1010"/>
<rect x="613.96" y="164.41" width="12.86" height="5.26" fill="#20f0f8"/>
<rect x="626.82" y="164.41" width="12.86" height="5.26" fill="#ffc008"/>
<rect x="639.69" y="164.41" width="12.86" height="5.26" fill="#0a30d0"/>
<rect x="652.55" y="164.41" width="12.86" height="5.26" fill="#ff7008"/>
<rect x="665.42" y="164.41" width="12.86" height="5.26" fill="#ffe808"/>
<rect x="446.73" y="169.68" width="12.86" height="5.26" fill="#e8f820"/>
<rect x="459.59" y="169.68" width="12.86" height="5.26" fill="#ff9808"/>
<rect x="472.46" y="169.68" width="12.86" height="5.26" fill="#ff1010"/>
<rect x="498.18" y="169.68" width="12.86" height="5.26" fill="#ff1010"/>
<rect x="511.05" y="169.68" width="12.86" height="5.26" fill="#e8f820"/>
<rect x="523.91" y="169.68" width="12.86" height="5.26" fill="#ffe808"/>
<rect x="536.78" y="169.68" width="12.86" height="5.26" fill="#ff2828"/>
<rect x="588.23" y="169.68" width="12.86" height="5.26" fill="#c8f830"/>
<rect x="613.96" y="169.68" width="12.86" height="5.26" fill="#ffc008"/>
<rect x="626.82" y="169.68" width="12.86" height="5.26" fill="#38f0d0"/>
<rect x="639.69" y="169.68" width="12.86" height="5.26" fill="#ffc008"/>
<rect x="652.55" y="169.68" width="12.86" height="5.26" fill="#ffe808"/>
<rect x="678.28" y="169.68" width="12.86" height="5.26" fill="#ffc008"/>
<rect x="421.00" y="174.94" width="12.86" height="5.27" fill="#ffc008"/>
<rect x="459.59" y="174.94" width="12.86" height="5.27" fill="#0000a4"/>
<rect x="472.46" y="174.94" width="12.86" height="5.27" fill="#ffe808"/>
<rect x="523.91" y="174.94" width="12.86" height="5.27" fill="#ffe808"/>
<rect x="536.78" y="174.94" width="12.86" height="5.27" fill="#ffc008"/>
<rect x="562.50" y="174.94" width="12.86" height="5.27" fill="#1070e0"/>
<rect x="575.37" y="174.94" width="25.73" height="5.27" fill="#20f0f8"/>
<rect x="601.10" y="174.94" width="12.86" height="5.27" fill="#ff2828"/>
<rect x="613.96" y="174.94" width="12.86" height="5.27" fill="#c8f830"/>
<rect x="639.69" y="174.94" width="12.86" height="5.27" fill="#0a30d0"/>
<rect x="652.55" y="174.94" width="12.86" height="5.27" fill="#ff1010"/>
<rect x="665.42" y="174.94" width="12.86" height="5.27" fill="#20f0f8"/>
<rect x="433.86" y="180.21" width="12.86" height="5.26" fill="#ffc008"/>
<rect x="459.59" y="180.21" width="25.73" height="5.26" fill="#90f060"/>
<rect x="485.32" y="180.21" width="12.86" height="5.26" fill="#60f0a8"/>
<rect x="498.18" y="180.21" width="12.86" height="5.26" fill="#a8f848"/>
<rect x="523.91" y="180.21" width="12.86" height="5.26" fill="#ffe808"/>
<rect x="536.78" y="180.21" width="12.86" height="5.26" fill="#38f0d0"/>
<rect x="562.50" y="180.21" width="12.86" height="5.26" fill="#ffc008"/>
<rect x="575.37" y="180.21" width="12.86" height="5.26" fill="#90f060"/>
<rect x="626.82" y="180.21" width="12.86" height="5.26" fill="#18c0f0"/>
<rect x="639.69" y="180.21" width="12.86" height="5.26" fill="#38f0d0"/>
<rect x="665.42" y="180.21" width="12.86" height="5.26" fill="#90f060"/>
<rect x="421.00" y="185.47" width="12.86" height="5.27" fill="#1070e0"/>
<rect x="446.73" y="185.47" width="25.73" height="5.27" fill="#ffe808"/>
<rect x="498.18" y="185.47" width="12.86" height="5.27" fill="#ff1010"/>
<rect x="511.05" y="185.47" width="12.86" height="5.27" fill="#ff2828"/>
<rect x="523.91" y="185.47" width="12.86" height="5.27" fill="#ff7008"/>
<rect x="536.78" y="185.47" width="12.86" height="5.27" fill="#ff9808"/>
<rect x="549.64" y="185.47" width="12.86" height="5.27" fill="#ff7008"/>
<rect x="588.23" y="185.47" width="12.86" height="5.27" fill="#60f0a8"/>
<rect x="626.82" y="185.47" width="12.86" height="5.27" fill="#ff4040"/>
<rect x="665.42" y="185.47" width="12.86" height="5.27" fill="#18c0f0"/>
<rect x="678.28" y="185.47" width="12.86" height="5.27" fill="#90f060"/>
<rect x="433.86" y="190.74" width="12.86" height="5.26" fill="#c8f830"/>
<rect x="459.59" y="190.74" width="12.86" height="5.26" fill="#a8f848"/>
<rect x="485.32" y="190.74" width="12.86" height="5.26" fill="#ff1010"/>
<rect x="498.18" y="190.74" width="12.86" height="5.26" fill="#ff4008"/>
<rect x="511.05" y="190.74" width="12.86" height="5.26" fill="#0a30d0"/>
<rect x="523.91" y="190.74" width="12.86" height="5.26" fill="#ff2828"/>
<rect x="536.78" y="190.74" width="12.86" height="5.26" fill="#ff7008"/>
<rect x="575.37" y="190.74" width="12.86" height="5.26" fill="#a8f848"/>
<rect x="588.23" y="190.74" width="12.86" height="5.26" fill="#38f0d0"/>
<rect x="601.10" y="190.74" width="12.86" height="5.26" fill="#c8f830"/>
<rect x="652.55" y="190.74" width="12.86" height="5.26" fill="#ffc008"/>
<rect x="433.86" y="196.00" width="12.86" height="5.27" fill="#ff4040"/>
<rect x="472.46" y="196.00" width="25.73" height="5.27" fill="#ff1010"/>
<rect x="498.18" y="196.00" width="12.86" height="5.27" fill="#20f0f8"/>
<rect x="511.05" y="196.00" width="12.86" height="5.27" fill="#ff4040"/>
<rect x="536.78" y="196.00" width="12.86" height="5.27" fill="#20f0f8"/>
<rect x="549.64" y="196.00" width="12.86" height="5.27" fill="#ffe808"/>
<rect x="613.96" y="196.00" width="12.86" height="5.27" fill="#ff4008"/>
<rect x="626.82" y="196.00" width="12.86" height="5.27" fill="#0a30d0"/>
<rect x="459.59" y="201.27" width="12.86" height="5.26" fill="#ff4040"/>
<rect x="485.32" y="201.27" width="12.86" height="5.26" fill="#ff5050"/>
<rect x="498.18" y="201.27" width="12.86" height="5.26" fill="#ff9808"/>
<rect x="511.05" y="201.27" width="25.73" height="5.26" fill="#ff4040"/>
<rect x="536.78" y="201.27" width="12.86" height="5.26" fill="#ff9808"/>
<rect x="575.37" y="201.27" width="12.86" height="5.26" fill="#ff4040"/>
<rect x="588.23" y="201.27" width="12.86" height="5.26" fill="#ffe808"/>
<rect x="601.10" y="201.27" width="12.86" height="5.26" fill="#ff1010"/>
<rect x="678.28" y="201.27" width="12.86" height="5.26" fill="#ff1010"/>
<rect x="459.59" y="206.53" width="64.32" height="4.87" fill="#ff4040"/>
<rect x="523.91" y="206.53" width="12.86" height="4.87" fill="#c8f830"/>
<rect x="536.78" y="206.53" width="12.86" height="4.87" fill="#ff4040"/>
<rect x="549.64" y="206.53" width="12.86" height="4.87" fill="#60f0a8"/>
<rect x="588.23" y="206.53" width="12.86" height="4.87" fill="#ff9808"/>
<rect x="601.10" y="206.53" width="12.86" height="4.87" fill="#ff2828"/>
<rect x="626.82" y="206.53" width="12.86" height="4.87" fill="#ffe808"/>
<rect x="709.70" y="1.20" width="20.10" height="210.30" fill="url(#cb0)"/>
<rect x="35.60" y="281.00" width="295.60" height="211.60" fill="#000080"/>
<rect x="35.60" y="281.00" width="295.40" height="211.60" fill="#000080"/>
<rect x="224.95" y="281.00" width="106.05" height="5.29" fill="#ff4040"/>
<rect x="197.90" y="286.29" width="27.05" height="5.29" fill="#60f0a8"/>
<rect x="224.95" y="286.29" width="27.05" height="5.29" fill="#ff2828"/>
<rect x="252.00" y="286.29" width="27.05" height="5.29" fill="#ff7008"/>
<rect x="279.05" y="286.29" width="27.05" height="5.29" fill="#ffc008"/>
<rect x="306.10" y="286.29" width="24.90" height="5.29" fill="#ff4040"/>
<rect x="252.00" y="291.58" width="27.05" height="5.29" fill="#ffe808"/>
<rect x="279.05" y="291.58" width="27.05" height="5.29" fill="#ff1010"/>
<rect x="306.10" y="291.58" width="24.90" height="5.29" fill="#ff7008"/>
<rect x="224.95" y="296.87" width="27.05" height="5.29" fill="#ff7008"/>
<rect x="252.00" y="296.87" width="54.10" height="5.29" fill="#ff1010"/>
<rect x="306.10" y="296.87" width="24.90" height="5.29" fill="#ffe808"/>
<rect x="224.95" y="302.16" width="27.05" height="5.29" fill="#a8f848"/>
<rect x="252.00" y="302.16" width="27.05" height="5.29" fill="#ff1010"/>
<rect x="279.05" y="302.16" width="27.05" height="5.29" fill="#a8f848"/>
<rect x="306.10" y="302.16" width="24.90" height="5.29" fill="#ff4008"/>
<rect x="224.95" y="307.45" width="81.15" height="5.29" fill="#ffe808"/>
<rect x="306.10" y="307.45" width="24.90" height="5.29" fill="#60f0a8"/>
<rect x="224.95" y="312.74" width="27.05" height="5.29" fill="#c8f830"/>
<rect x="252.00" y="312.74" width="54.10" height="5.29" fill="#ff9808"/>
<rect x="306.10" y="312.74" width="24.90" height="5.29" fill="#ffe808"/>
<rect x="224.95" y="318.03" width="54.10" height="5.29" fill="#ff2828"/>
<rect x="279.05" y="318.03" width="27.05" height="5.29" fill="#ff9808"/>
<rect x="306.10" y="318.03" width="24.90" height="5.29" fill="#ff1010"/>
<rect x="197.90" y="323.32" width="27.05" height="5.29" fill="#ffc008"/>
<rect x="224.95" y="323.32" width="27.05" height="5.29" fill="#ff9808"/>
<rect x="252.00" y="323.32" width="79.00" height="5.29" fill="#ff4040"/>
<rect x="170.85" y="328.61" width="27.05" height="5.29" fill="#60f0a8"/>
<rect x="197.90" y="328.61" width="27.05" height="5.29" fill="#ff4008"/>
<rect x="224.95" y="328.61" width="106.05" height="5.29" fill="#ff4040"/>
<rect x="170.85" y="333.90" width="27.05" height="5.29" fill="#60f0a8"/>
<rect x="197.90" y="333.90" width="27.05" height="5.29" fill="#ff9808"/>
<rect x="224.95" y="333.90" width="54.10" height="5.29" fill="#ff2828"/>
<rect x="279.05" y="333.90" width="51.95" height="5.29" fill="#ff4040"/>
<rect x="170.85" y="339.19" width="27.05" height="5.29" fill="#c8f830"/>
<rect x="197.90" y="339.19" width="27.05" height="5.29" fill="#ff4008"/>
<rect x="224.95" y="339.19" width="27.05" height="5.29" fill="#ff2828"/>
<rect x="252.00" y="339.19" width="54.10" height="5.29" fill="#ff4040"/>
<rect x="306.10" y="339.19" width="24.90" height="5.29" fill="#ff2828"/>
<rect x="170.85" y="344.48" width="27.05" height="5.29" fill="#ffe808"/>
<rect x="224.95" y="344.48" width="81.15" height="5.29" fill="#ff2828"/>
<rect x="306.10" y="344.48" width="24.90" height="5.29" fill="#ff4040"/>
<rect x="170.85" y="349.77" width="27.05" height="5.29" fill="#e8f820"/>
<rect x="197.90" y="349.77" width="27.05" height="5.29" fill="#ff4008"/>
<rect x="224.95" y="349.77" width="27.05" height="5.29" fill="#ff9808"/>
<rect x="252.00" y="349.77" width="54.10" height="5.29" fill="#90f060"/>
<rect x="306.10" y="349.77" width="24.90" height="5.29" fill="#ff4008"/>
<rect x="170.85" y="355.06" width="27.05" height="5.29" fill="#ff1010"/>
<rect x="197.90" y="355.06" width="27.05" height="5.29" fill="#ff4008"/>
<rect x="224.95" y="355.06" width="27.05" height="5.29" fill="#ff2828"/>
<rect x="252.00" y="355.06" width="27.05" height="5.29" fill="#ff9808"/>
<rect x="279.05" y="355.06" width="27.05" height="5.29" fill="#ff1010"/>
<rect x="306.10" y="355.06" width="24.90" height="5.29" fill="#ff2828"/>
<rect x="224.95" y="360.35" width="27.05" height="5.29" fill="#ff9808"/>
<rect x="252.00" y="360.35" width="27.05" height="5.29" fill="#ffc008"/>
<rect x="279.05" y="360.35" width="51.95" height="5.29" fill="#ff4008"/>
<rect x="224.95" y="365.64" width="27.05" height="5.29" fill="#60f0a8"/>
<rect x="252.00" y="365.64" width="27.05" height="5.29" fill="#e8f820"/>
<rect x="279.05" y="365.64" width="27.05" height="5.29" fill="#ff4008"/>
<rect x="306.10" y="365.64" width="24.90" height="5.29" fill="#ff4040"/>
<rect x="224.95" y="370.93" width="27.05" height="5.29" fill="#ffc008"/>
<rect x="252.00" y="370.93" width="27.05" height="5.29" fill="#38f0d0"/>
<rect x="279.05" y="370.93" width="51.95" height="5.29" fill="#ff1010"/>
<rect x="224.95" y="376.22" width="27.05" height="5.29" fill="#20f0f8"/>
<rect x="252.00" y="376.22" width="27.05" height="5.29" fill="#ff4008"/>
<rect x="279.05" y="376.22" width="27.05" height="5.29" fill="#ff1010"/>
<rect x="306.10" y="376.22" width="24.90" height="5.29" fill="#ff4040"/>
<rect x="224.95" y="381.51" width="54.10" height="5.29" fill="#ff4008"/>
<rect x="279.05" y="381.51" width="27.05" height="5.29" fill="#ff1010"/>
<rect x="306.10" y="381.51" width="24.90" height="5.29" fill="#ff2828"/>
<rect x="170.85" y="386.80" width="27.05" height="5.29" fill="#0a30d0"/>
<rect x="197.90" y="386.80" width="27.05" height="5.29" fill="#ff1010"/>
<rect x="224.95" y="386.80" width="27.05" height="5.29" fill="#ff9808"/>
<rect x="252.00" y="386.80" width="27.05" height="5.29" fill="#ff4040"/>
<rect x="279.05" y="386.80" width="27.05" height="5.29" fill="#ff1010"/>
<rect x="306.10" y="386.80" width="24.90" height="5.29" fill="#ff4040"/>
<rect x="224.95" y="392.09" width="27.05" height="5.29" fill="#ff1010"/>
<rect x="252.00" y="392.09" width="27.05" height="5.29" fill="#ffc008"/>
<rect x="279.05" y="392.09" width="27.05" height="5.29" fill="#ff1010"/>
<rect x="306.10" y="392.09" width="24.90" height="5.29" fill="#ff4040"/>
<rect x="197.90" y="397.38" width="54.10" height="5.29" fill="#20f0f8"/>
<rect x="252.00" y="397.38" width="27.05" height="5.29" fill="#60f0a8"/>
<rect x="279.05" y="397.38" width="27.05" height="5.29" fill="#ff1010"/>
<rect x="306.10" y="397.38" width="24.90" height="5.29" fill="#ff4040"/>
<rect x="224.95" y="402.67" width="27.05" height="5.29" fill="#20f0f8"/>
<rect x="252.00" y="402.67" width="27.05" height="5.29" fill="#ff2828"/>
<rect x="279.05" y="402.67" width="27.05" height="5.29" fill="#ff4040"/>
<rect x="306.10" y="402.67" width="24.90" height="5.29" fill="#ff1010"/>
<rect x="170.85" y="407.96" width="27.05" height="5.29" fill="#38f0d0"/>
<rect x="252.00" y="407.96" width="27.05" height="5.29" fill="#c8f830"/>
<rect x="279.05" y="407.96" width="27.05" height="5.29" fill="#e8f820"/>
<rect x="306.10" y="407.96" width="24.90" height="5.29" fill="#ffe808"/>
<rect x="170.85" y="413.25" width="27.05" height="5.29" fill="#38f0d0"/>
<rect x="197.90" y="413.25" width="27.05" height="5.29" fill="#20f0f8"/>
<rect x="224.95" y="413.25" width="27.05" height="5.29" fill="#ff1010"/>
<rect x="252.00" y="413.25" width="27.05" height="5.29" fill="#ff4040"/>
<rect x="279.05" y="413.25" width="27.05" height="5.29" fill="#a8f848"/>
<rect x="306.10" y="413.25" width="24.90" height="5.29" fill="#e8f820"/>
<rect x="170.85" y="418.54" width="54.10" height="5.29" fill="#ff4008"/>
<rect x="224.95" y="418.54" width="27.05" height="5.29" fill="#ff1010"/>
<rect x="252.00" y="418.54" width="27.05" height="5.29" fill="#ff4040"/>
<rect x="279.05" y="418.54" width="27.05" height="5.29" fill="#ffc008"/>
<rect x="306.10" y="418.54" width="24.90" height="5.29" fill="#ff4008"/>
<rect x="170.85" y="423.83" width="27.05" height="5.29" fill="#ffe808"/>
<rect x="197.90" y="423.83" width="27.05" height="5.29" fill="#0a30d0"/>
<rect x="224.95" y="423.83" width="27.05" height="5.29" fill="#ff4040"/>
<rect x="252.00" y="423.83" width="54.10" height="5.29" fill="#ff2828"/>
<rect x="306.10" y="423.83" width="24.90" height="5.29" fill="#ffe808"/>
<rect x="197.90" y="429.12" width="27.05" height="5.29" fill="#0a30d0"/>
<rect x="224.95" y="429.12" width="27.05" height="5.29" fill="#ff9808"/>
<rect x="252.00" y="429.12" width="27.05" height="5.29" fill="#ff2828"/>
<rect x="279.05" y="429.12" width="27.05" height="5.29" fill="#ff4040"/>
<rect x="306.10" y="429.12" width="24.90" height="5.29" fill="#ff2828"/>
<rect x="143.80" y="434.41" width="27.05" height="5.29" fill="#0818c0"/>
<rect x="197.90" y="434.41" width="27.05" height="5.29" fill="#0a30d0"/>
<rect x="224.95" y="434.41" width="27.05" height="5.29" fill="#ff1010"/>
<rect x="252.00" y="434.41" width="27.05" height="5.29" fill="#ff4040"/>
<rect x="279.05" y="434.41" width="51.95" height="5.29" fill="#ff2828"/>
<rect x="224.95" y="439.70" width="27.05" height="5.29" fill="#e8f820"/>
<rect x="252.00" y="439.70" width="79.00" height="5.29" fill="#ff4040"/>
<rect x="197.90" y="444.99" width="27.05" height="5.29" fill="#ffe808"/>
<rect x="224.95" y="444.99" width="27.05" height="5.29" fill="#ff1010"/>
<rect x="252.00" y="444.99" width="27.05" height="5.29" fill="#ff9808"/>
<rect x="279.05" y="444.99" width="27.05" height="5.29" fill="#ff2828"/>
<rect x="306.10" y="444.99" width="24.90" height="5.29" fill="#ff1010"/>
<rect x="143.80" y="450.28" width="27.05" height="5.29" fill="#e8f820"/>
<rect x="197.90" y="450.28" width="27.05" height="5.29" fill="#e8f820"/>
<rect x="224.95" y="450.28" width="54.10" height="5.29" fill="#ff1010"/>
<rect x="279.05" y="450.28" width="27.05" height="5.29" fill="#ff9808"/>
<rect x="306.10" y="450.28" width="24.90" height="5.29" fill="#ff1010"/>
<rect x="224.95" y="455.57" width="27.05" height="5.29" fill="#ffe808"/>
<rect x="252.00" y="455.57" width="54.10" height="5.29" fill="#ff1010"/>
<rect x="306.10" y="455.57" width="24.90" height="5.29" fill="#a8f848"/>
<rect x="224.95" y="460.86" width="27.05" height="5.29" fill="#ffc008"/>
<rect x="252.00" y="460.86" width="27.05" height="5.29" fill="#38f0d0"/>
<rect x="279.05" y="460.86" width="27.05" height="5.29" fill="#90f060"/>
<rect x="306.10" y="460.86" width="24.90" height="5.29" fill="#ffe808"/>
<rect x="224.95" y="466.15" width="27.05" height="5.29" fill="#ff1010"/>
<rect x="252.00" y="466.15" width="27.05" height="5.29" fill="#ff2828"/>
<rect x="279.05" y="466.15" width="27.05" height="5.29" fill="#ff7008"/>
<rect x="306.10" y="466.15" width="24.90" height="5.29" fill="#ff9808"/>
<rect x="224.95" y="471.44" width="27.05" height="5.29" fill="#90f060"/>
<rect x="252.00" y="471.44" width="27.05" height="5.29" fill="#ff1010"/>
<rect x="279.05" y="471.44" width="27.05" height="5.29" fill="#ff2828"/>
<rect x="306.10" y="471.44" width="24.90" height="5.29" fill="#ff4008"/>
<rect x="170.85" y="476.73" width="27.05" height="5.29" fill="#0000a4"/>
<rect x="224.95" y="476.73" width="27.05" height="5.29" fill="#ff4008"/>
<rect x="252.00" y="476.73" width="27.05" height="5.29" fill="#ff4040"/>
<rect x="279.05" y="476.73" width="27.05" height="5.29" fill="#ff5050"/>
<rect x="306.10" y="476.73" width="24.90" height="5.29" fill="#ff1010"/>
<rect x="224.95" y="482.02" width="54.10" height="5.29" fill="#ff4040"/>
<rect x="279.05" y="482.02" width="27.05" height="5.29" fill="#ff5050"/>
<rect x="306.10" y="482.02" width="24.90" height="5.29" fill="#ff4040"/>
<rect x="170.85" y="487.31" width="27.05" height="5.29" fill="#ff9808"/>
<rect x="224.95" y="487.31" width="27.05" height="5.29" fill="#ff2828"/>
<rect x="252.00" y="487.31" width="27.05" height="5.29" fill="#ff4040"/>
<rect x="279.05" y="487.31" width="27.05" height="5.29" fill="#ff5050"/>
<rect x="306.10" y="487.31" width="24.90" height="5.29" fill="#ff4040"/>
<g transform="translate(0,280.5)">
<rect x="331.00" y="0.50" width="21.00" height="211.50" fill="url(#cb0)"/>
</g>
</g>
<g>
<rect x="36.10" y="0.00" width="316.60" height="1.40" fill="#000"/>
<rect x="36.10" y="211.00" width="316.60" height="1.80" fill="#000"/>
<rect x="36.10" y="0.00" width="1.60" height="212.70" fill="#000"/>
<rect x="330.90" y="0.00" width="0.90" height="212.70" fill="#000"/>
<rect x="351.60" y="0.00" width="1.10" height="212.70" fill="#000"/>
<line x1="74.97" y1="1.20" x2="74.97" y2="3.70" stroke="#000" stroke-opacity="0.8" stroke-width="1.0"/>
<line x1="74.97" y1="208.90" x2="74.97" y2="211.40" stroke="#000" stroke-opacity="0.45" stroke-width="1.0"/>
<line x1="100.01" y1="1.20" x2="100.01" y2="3.70" stroke="#000" stroke-opacity="0.8" stroke-width="1.0"/>
<line x1="100.01" y1="208.90" x2="100.01" y2="211.40" stroke="#000" stroke-opacity="0.45" stroke-width="1.0"/>
<line x1="120.47" y1="1.20" x2="120.47" y2="3.70" stroke="#000" stroke-opacity="0.8" stroke-width="1.0"/>
<line x1="120.47" y1="208.90" x2="120.47" y2="211.40" stroke="#000" stroke-opacity="0.45" stroke-width="1.0"/>
<line x1="137.77" y1="1.20" x2="137.77" y2="3.70" stroke="#000" stroke-opacity="0.8" stroke-width="1.0"/>
<line x1="137.77" y1="208.90" x2="137.77" y2="211.40" stroke="#000" stroke-opacity="0.45" stroke-width="1.0"/>
<line x1="152.76" y1="1.20" x2="152.76" y2="3.70" stroke="#000" stroke-opacity="0.8" stroke-width="1.0"/>
<line x1="152.76" y1="208.90" x2="152.76" y2="211.40" stroke="#000" stroke-opacity="0.45" stroke-width="1.0"/>
<line x1="165.98" y1="1.20" x2="165.98" y2="3.70" stroke="#000" stroke-opacity="0.8" stroke-width="1.0"/>
<line x1="165.98" y1="208.90" x2="165.98" y2="211.40" stroke="#000" stroke-opacity="0.45" stroke-width="1.0"/>
<line x1="177.80" y1="1.20" x2="177.80" y2="5.70" stroke="#000" stroke-opacity="0.8" stroke-width="1.0"/>
<line x1="177.80" y1="206.90" x2="177.80" y2="211.40" stroke="#000" stroke-opacity="0.45" stroke-width="1.0"/>
<line x1="255.59" y1="1.20" x2="255.59" y2="3.70" stroke="#000" stroke-opacity="0.8" stroke-width="1.0"/>
<line x1="255.59" y1="208.90" x2="255.59" y2="211.40" stroke="#000" stroke-opacity="0.45" stroke-width="1.0"/>
<line x1="301.09" y1="1.20" x2="301.09" y2="3.70" stroke="#000" stroke-opacity="0.8" stroke-width="1.0"/>
<line x1="301.09" y1="208.90" x2="301.09" y2="211.40" stroke="#000" stroke-opacity="0.45" stroke-width="1.0"/>
<line x1="37.50" y1="9.70" x2="43.00" y2="9.70" stroke="#000" stroke-width="1.8"/>
<line x1="326.00" y1="9.70" x2="331.00" y2="9.70" stroke="#000" stroke-width="1.8"/>
<line x1="37.50" y1="57.95" x2="43.00" y2="57.95" stroke="#000" stroke-width="1.8"/>
<line x1="326.00" y1="57.95" x2="331.00" y2="57.95" stroke="#000" stroke-width="1.8"/>
<line x1="37.50" y1="43.43" x2="40.60" y2="43.43" stroke="#000" stroke-width="1.4"/>
<line x1="328.40" y1="43.43" x2="331.00" y2="43.43" stroke="#000" stroke-width="1.4"/>
<line x1="37.50" y1="34.93" x2="40.60" y2="34.93" stroke="#000" stroke-width="1.4"/>
<line x1="328.40" y1="34.93" x2="331.00" y2="34.93" stroke="#000" stroke-width="1.4"/>
<line x1="37.50" y1="28.90" x2="40.60" y2="28.90" stroke="#000" stroke-width="1.4"/>
<line x1="328.40" y1="28.90" x2="331.00" y2="28.90" stroke="#000" stroke-width="1.4"/>
<line x1="37.50" y1="24.22" x2="40.60" y2="24.22" stroke="#000" stroke-width="1.4"/>
<line x1="328.40" y1="24.22" x2="331.00" y2="24.22" stroke="#000" stroke-width="1.4"/>
<line x1="37.50" y1="20.40" x2="40.60" y2="20.40" stroke="#000" stroke-width="1.4"/>
<line x1="328.40" y1="20.40" x2="331.00" y2="20.40" stroke="#000" stroke-width="1.4"/>
<line x1="37.50" y1="17.17" x2="40.60" y2="17.17" stroke="#000" stroke-width="1.4"/>
<line x1="328.40" y1="17.17" x2="331.00" y2="17.17" stroke="#000" stroke-width="1.4"/>
<line x1="37.50" y1="14.38" x2="40.60" y2="14.38" stroke="#000" stroke-width="1.4"/>
<line x1="328.40" y1="14.38" x2="331.00" y2="14.38" stroke="#000" stroke-width="1.4"/>
<line x1="37.50" y1="11.91" x2="40.60" y2="11.91" stroke="#000" stroke-width="1.4"/>
<line x1="328.40" y1="11.91" x2="331.00" y2="11.91" stroke="#000" stroke-width="1.4"/>
<line x1="37.50" y1="106.20" x2="43.00" y2="106.20" stroke="#000" stroke-width="1.8"/>
<line x1="326.00" y1="106.20" x2="331.00" y2="106.20" stroke="#000" stroke-width="1.8"/>
<line x1="37.50" y1="91.68" x2="40.60" y2="91.68" stroke="#000" stroke-width="1.4"/>
<line x1="328.40" y1="91.68" x2="331.00" y2="91.68" stroke="#000" stroke-width="1.4"/>
<line x1="37.50" y1="83.18" x2="40.60" y2="83.18" stroke="#000" stroke-width="1.4"/>
<line x1="328.40" y1="83.18" x2="331.00" y2="83.18" stroke="#000" stroke-width="1.4"/>
<line x1="37.50" y1="77.15" x2="40.60" y2="77.15" stroke="#000" stroke-width="1.4"/>
<line x1="328.40" y1="77.15" x2="331.00" y2="77.15" stroke="#000" stroke-width="1.4"/>
<line x1="37.50" y1="72.47" x2="40.60" y2="72.47" stroke="#000" stroke-width="1.4"/>
<line x1="328.40" y1="72.47" x2="331.00" y2="72.47" stroke="#000" stroke-width="1.4"/>
<line x1="37.50" y1="68.65" x2="40.60" y2="68.65" stroke="#000" stroke-width="1.4"/>
<line x1="328.40" y1="68.65" x2="331.00" y2="68.65" stroke="#000" stroke-width="1.4"/>
<line x1="37.50" y1="65.42" x2="40.60" y2="65.42" stroke="#000" stroke-width="1.4"/>
<line x1="328.40" y1="65.42" x2="331.00" y2="65.42" stroke="#000" stroke-width="1.4"/>
<line x1="37.50" y1="62.63" x2="40.60" y2="62.63" stroke="#000" stroke-width="1.4"/>
<line x1="328.40" y1="62.63" x2="331.00" y2="62.63" stroke="#000" stroke-width="1.4"/>
<line x1="37.50" y1="60.16" x2="40.60" y2="60.16" stroke="#000" stroke-width="1.4"/>
<line x1="328.40" y1="60.16" x2="331.00" y2="60.16" stroke="#000" stroke-width="1.4"/>
<line x1="37.50" y1="154.45" x2="43.00" y2="154.45" stroke="#000" stroke-width="1.8"/>
<line x1="326.00" y1="154.45" x2="331.00" y2="154.45" stroke="#000" stroke-width="1.8"/>
<line x1="37.50" y1="139.93" x2="40.60" y2="139.93" stroke="#000" stroke-width="1.4"/>
<line x1="328.40" y1="139.93" x2="331.00" y2="139.93" stroke="#000" stroke-width="1.4"/>
<line x1="37.50" y1="131.43" x2="40.60" y2="131.43" stroke="#000" stroke-width="1.4"/>
<line x1="328.40" y1="131.43" x2="331.00" y2="131.43" stroke="#000" stroke-width="1.4"/>
<line x1="37.50" y1="125.40" x2="40.60" y2="125.40" stroke="#000" stroke-width="1.4"/>
<line x1="328.40" y1="125.40" x2="331.00" y2="125.40" stroke="#000" stroke-width="1.4"/>
<line x1="37.50" y1="120.72" x2="40.60" y2="120.72" stroke="#000" stroke-width="1.4"/>
<line x1="328.40" y1="120.72" x2="331.00" y2="120.72" stroke="#000" stroke-width="1.4"/>
<line x1="37.50" y1="116.90" x2="40.60" y2="116.90" stroke="#000" stroke-width="1.4"/>
<line x1="328.40" y1="116.90" x2="331.00" y2="116.90" stroke="#000" stroke-width="1.4"/>
<line x1="37.50" y1="113.67" x2="40.60" y2="113.67" stroke="#000" stroke-width="1.4"/>
<line x1="328.40" y1="113.67" x2="331.00" y2="113.67" stroke="#000" stroke-width="1.4"/>
<line x1="37.50" y1="110.88" x2="40.60" y2="110.88" stroke="#000" stroke-width="1.4"/>
<line x1="328.40" y1="110.88" x2="331.00" y2="110.88" stroke="#000" stroke-width="1.4"/>
<line x1="37.50" y1="108.41" x2="40.60" y2="108.41" stroke="#000" stroke-width="1.4"/>
<line x1="328.40" y1="108.41" x2="331.00" y2="108.41" stroke="#000" stroke-width="1.4"/>
<line x1="37.50" y1="202.70" x2="43.00" y2="202.70" stroke="#000" stroke-width="1.8"/>
<line x1="326.00" y1="202.70" x2="331.00" y2="202.70" stroke="#000" stroke-width="1.8"/>
<line x1="37.50" y1="188.18" x2="40.60" y2="188.18" stroke="#000" stroke-width="1.4"/>
<line x1="328.40" y1="188.18" x2="331.00" y2="188.18" stroke="#000" stroke-width="1.4"/>
<line x1="37.50" y1="179.68" x2="40.60" y2="179.68" stroke="#000" stroke-width="1.4"/>
<line x1="328.40" y1="179.68" x2="331.00" y2="179.68" stroke="#000" stroke-width="1.4"/>
<line x1="37.50" y1="173.65" x2="40.60" y2="173.65" stroke="#000" stroke-width="1.4"/>
<line x1="328.40" y1="173.65" x2="331.00" y2="173.65" stroke="#000" stroke-width="1.4"/>
<line x1="37.50" y1="168.97" x2="40.60" y2="168.97" stroke="#000" stroke-width="1.4"/>
<line x1="328.40" y1="168.97" x2="331.00" y2="168.97" stroke="#000" stroke-width="1.4"/>
<line x1="37.50" y1="165.15" x2="40.60" y2="165.15" stroke="#000" stroke-width="1.4"/>
<line x1="328.40" y1="165.15" x2="331.00" y2="165.15" stroke="#000" stroke-width="1.4"/>
<line x1="37.50" y1="161.92" x2="40.60" y2="161.92" stroke="#000" stroke-width="1.4"/>
<line x1="328.40" y1="161.92" x2="331.00" y2="161.92" stroke="#000" stroke-width="1.4"/>
<line x1="37.50" y1="159.13" x2="40.60" y2="159.13" stroke="#000" stroke-width="1.4"/>
<line x1="328.40" y1="159.13" x2="331.00" y2="159.13" stroke="#000" stroke-width="1.4"/>
<line x1="37.50" y1="156.66" x2="40.60" y2="156.66" stroke="#000" stroke-width="1.4"/>
<line x1="328.40" y1="156.66" x2="331.00" y2="156.66" stroke="#000" stroke-width="1.4"/>
<line x1="37.50" y1="210.17" x2="40.60" y2="210.17" stroke="#000" stroke-width="1.4"/>
<line x1="328.40" y1="210.17" x2="331.00" y2="210.17" stroke="#000" stroke-width="1.4"/>
<line x1="37.50" y1="207.38" x2="40.60" y2="207.38" stroke="#000" stroke-width="1.4"/>
<line x1="328.40" y1="207.38" x2="331.00" y2="207.38" stroke="#000" stroke-width="1.4"/>
<line x1="37.50" y1="204.91" x2="40.60" y2="204.91" stroke="#000" stroke-width="1.4"/>
<line x1="328.40" y1="204.91" x2="331.00" y2="204.91" stroke="#000" stroke-width="1.4"/>
<line x1="331.50" y1="40.20" x2="334.30" y2="40.20" stroke="#400" stroke-opacity="0.7" stroke-width="0.7"/>
<line x1="349.20" y1="40.20" x2="352.00" y2="40.20" stroke="#400" stroke-opacity="0.7" stroke-width="0.7"/>
<line x1="331.50" y1="72.50" x2="334.30" y2="72.50" stroke="#400" stroke-opacity="0.7" stroke-width="0.7"/>
<line x1="349.20" y1="72.50" x2="352.00" y2="72.50" stroke="#400" stroke-opacity="0.7" stroke-width="0.7"/>
<line x1="331.50" y1="104.80" x2="334.30" y2="104.80" stroke="#400" stroke-opacity="0.7" stroke-width="0.7"/>
<line x1="349.20" y1="104.80" x2="352.00" y2="104.80" stroke="#400" stroke-opacity="0.7" stroke-width="0.7"/>
<line x1="331.50" y1="137.10" x2="334.30" y2="137.10" stroke="#400" stroke-opacity="0.7" stroke-width="0.7"/>
<line x1="349.20" y1="137.10" x2="352.00" y2="137.10" stroke="#400" stroke-opacity="0.7" stroke-width="0.7"/>
<line x1="331.50" y1="169.40" x2="334.30" y2="169.40" stroke="#400" stroke-opacity="0.7" stroke-width="0.7"/>
<line x1="349.20" y1="169.40" x2="352.00" y2="169.40" stroke="#400" stroke-opacity="0.7" stroke-width="0.7"/>
<line x1="331.50" y1="201.70" x2="334.30" y2="201.70" stroke="#400" stroke-opacity="0.7" stroke-width="0.7"/>
<line x1="349.20" y1="201.70" x2="352.00" y2="201.70" stroke="#400" stroke-opacity="0.7" stroke-width="0.7"/>
<circle cx="157" cy="24.8" r="4.6" fill="#000"/>
<rect x="414.10" y="0.00" width="316.60" height="1.40" fill="#000"/>
<rect x="414.10" y="211.00" width="316.60" height="1.80" fill="#000"/>
<rect x="414.10" y="0.00" width="1.60" height="212.70" fill="#000"/>
<rect x="708.90" y="0.00" width="0.90" height="212.70" fill="#000"/>
<rect x="729.60" y="0.00" width="1.10" height="212.70" fill="#000"/>
<line x1="452.97" y1="1.20" x2="452.97" y2="3.70" stroke="#000" stroke-opacity="0.8" stroke-width="1.0"/>
<line x1="452.97" y1="208.90" x2="452.97" y2="211.40" stroke="#000" stroke-opacity="0.45" stroke-width="1.0"/>
<line x1="478.01" y1="1.20" x2="478.01" y2="3.70" stroke="#000" stroke-opacity="0.8" stroke-width="1.0"/>
<line x1="478.01" y1="208.90" x2="478.01" y2="211.40" stroke="#000" stroke-opacity="0.45" stroke-width="1.0"/>
<line x1="498.47" y1="1.20" x2="498.47" y2="3.70" stroke="#000" stroke-opacity="0.8" stroke-width="1.0"/>
<line x1="498.47" y1="208.90" x2="498.47" y2="211.40" stroke="#000" stroke-opacity="0.45" stroke-width="1.0"/>
<line x1="515.77" y1="1.20" x2="515.77" y2="3.70" stroke="#000" stroke-opacity="0.8" stroke-width="1.0"/>
<line x1="515.77" y1="208.90" x2="515.77" y2="211.40" stroke="#000" stroke-opacity="0.45" stroke-width="1.0"/>
<line x1="530.76" y1="1.20" x2="530.76" y2="3.70" stroke="#000" stroke-opacity="0.8" stroke-width="1.0"/>
<line x1="530.76" y1="208.90" x2="530.76" y2="211.40" stroke="#000" stroke-opacity="0.45" stroke-width="1.0"/>
<line x1="543.98" y1="1.20" x2="543.98" y2="3.70" stroke="#000" stroke-opacity="0.8" stroke-width="1.0"/>
<line x1="543.98" y1="208.90" x2="543.98" y2="211.40" stroke="#000" stroke-opacity="0.45" stroke-width="1.0"/>
<line x1="555.80" y1="1.20" x2="555.80" y2="5.70" stroke="#000" stroke-opacity="0.8" stroke-width="1.0"/>
<line x1="555.80" y1="206.90" x2="555.80" y2="211.40" stroke="#000" stroke-opacity="0.45" stroke-width="1.0"/>
<line x1="633.59" y1="1.20" x2="633.59" y2="3.70" stroke="#000" stroke-opacity="0.8" stroke-width="1.0"/>
<line x1="633.59" y1="208.90" x2="633.59" y2="211.40" stroke="#000" stroke-opacity="0.45" stroke-width="1.0"/>
<line x1="679.09" y1="1.20" x2="679.09" y2="3.70" stroke="#000" stroke-opacity="0.8" stroke-width="1.0"/>
<line x1="679.09" y1="208.90" x2="679.09" y2="211.40" stroke="#000" stroke-opacity="0.45" stroke-width="1.0"/>
<line x1="415.50" y1="209.30" x2="421.00" y2="209.30" stroke="#000" stroke-width="1.8"/>
<line x1="704.00" y1="209.30" x2="709.00" y2="209.30" stroke="#000" stroke-width="1.8"/>
<line x1="415.50" y1="175.70" x2="418.60" y2="175.70" stroke="#000" stroke-width="1.3"/>
<line x1="706.40" y1="175.70" x2="709.00" y2="175.70" stroke="#000" stroke-width="1.3"/>
<line x1="415.50" y1="142.10" x2="421.00" y2="142.10" stroke="#000" stroke-width="1.8"/>
<line x1="704.00" y1="142.10" x2="709.00" y2="142.10" stroke="#000" stroke-width="1.8"/>
<line x1="415.50" y1="108.50" x2="418.60" y2="108.50" stroke="#000" stroke-width="1.3"/>
<line x1="706.40" y1="108.50" x2="709.00" y2="108.50" stroke="#000" stroke-width="1.3"/>
<line x1="415.50" y1="74.90" x2="421.00" y2="74.90" stroke="#000" stroke-width="1.8"/>
<line x1="704.00" y1="74.90" x2="709.00" y2="74.90" stroke="#000" stroke-width="1.8"/>
<line x1="415.50" y1="41.30" x2="418.60" y2="41.30" stroke="#000" stroke-width="1.3"/>
<line x1="706.40" y1="41.30" x2="709.00" y2="41.30" stroke="#000" stroke-width="1.3"/>
<line x1="415.50" y1="7.70" x2="421.00" y2="7.70" stroke="#000" stroke-width="1.8"/>
<line x1="704.00" y1="7.70" x2="709.00" y2="7.70" stroke="#000" stroke-width="1.8"/>
<line x1="709.50" y1="40.20" x2="712.30" y2="40.20" stroke="#400" stroke-opacity="0.7" stroke-width="0.7"/>
<line x1="727.20" y1="40.20" x2="730.00" y2="40.20" stroke="#400" stroke-opacity="0.7" stroke-width="0.7"/>
<line x1="709.50" y1="72.50" x2="712.30" y2="72.50" stroke="#400" stroke-opacity="0.7" stroke-width="0.7"/>
<line x1="727.20" y1="72.50" x2="730.00" y2="72.50" stroke="#400" stroke-opacity="0.7" stroke-width="0.7"/>
<line x1="709.50" y1="104.80" x2="712.30" y2="104.80" stroke="#400" stroke-opacity="0.7" stroke-width="0.7"/>
<line x1="727.20" y1="104.80" x2="730.00" y2="104.80" stroke="#400" stroke-opacity="0.7" stroke-width="0.7"/>
<line x1="709.50" y1="137.10" x2="712.30" y2="137.10" stroke="#400" stroke-opacity="0.7" stroke-width="0.7"/>
<line x1="727.20" y1="137.10" x2="730.00" y2="137.10" stroke="#400" stroke-opacity="0.7" stroke-width="0.7"/>
<line x1="709.50" y1="169.40" x2="712.30" y2="169.40" stroke="#400" stroke-opacity="0.7" stroke-width="0.7"/>
<line x1="727.20" y1="169.40" x2="730.00" y2="169.40" stroke="#400" stroke-opacity="0.7" stroke-width="0.7"/>
<line x1="709.50" y1="201.70" x2="712.30" y2="201.70" stroke="#400" stroke-opacity="0.7" stroke-width="0.7"/>
<line x1="727.20" y1="201.70" x2="730.00" y2="201.70" stroke="#400" stroke-opacity="0.7" stroke-width="0.7"/>
<circle cx="534.8" cy="5.6" r="4.8" fill="#000"/>
<rect x="35.70" y="280.60" width="317.00" height="0.60" fill="#000"/>
<rect x="35.70" y="492.00" width="317.00" height="0.70" fill="#000"/>
<rect x="35.60" y="280.60" width="0.40" height="212.00" fill="#000"/>
<rect x="330.90" y="280.60" width="1.00" height="212.00" fill="#000"/>
<rect x="351.60" y="280.60" width="1.10" height="212.00" fill="#000"/>
<line x1="40.60" y1="281.20" x2="40.60" y2="283.70" stroke="#000" stroke-opacity="0.7" stroke-width="1.0"/>
<line x1="40.60" y1="489.70" x2="40.60" y2="492.20" stroke="#000" stroke-opacity="0.7" stroke-width="1.0"/>
<line x1="44.08" y1="281.20" x2="44.08" y2="283.70" stroke="#000" stroke-opacity="0.7" stroke-width="1.0"/>
<line x1="44.08" y1="489.70" x2="44.08" y2="492.20" stroke="#000" stroke-opacity="0.7" stroke-width="1.0"/>
<line x1="47.20" y1="281.20" x2="47.20" y2="285.70" stroke="#000" stroke-opacity="0.7" stroke-width="1.0"/>
<line x1="47.20" y1="487.70" x2="47.20" y2="492.20" stroke="#000" stroke-opacity="0.7" stroke-width="1.0"/>
<line x1="67.72" y1="281.20" x2="67.72" y2="283.70" stroke="#000" stroke-opacity="0.7" stroke-width="1.0"/>
<line x1="67.72" y1="489.70" x2="67.72" y2="492.20" stroke="#000" stroke-opacity="0.7" stroke-width="1.0"/>
<line x1="79.72" y1="281.20" x2="79.72" y2="283.70" stroke="#000" stroke-opacity="0.7" stroke-width="1.0"/>
<line x1="79.72" y1="489.70" x2="79.72" y2="492.20" stroke="#000" stroke-opacity="0.7" stroke-width="1.0"/>
<line x1="88.23" y1="281.20" x2="88.23" y2="283.70" stroke="#000" stroke-opacity="0.7" stroke-width="1.0"/>
<line x1="88.23" y1="489.70" x2="88.23" y2="492.20" stroke="#000" stroke-opacity="0.7" stroke-width="1.0"/>
<line x1="94.83" y1="281.20" x2="94.83" y2="283.70" stroke="#000" stroke-opacity="0.7" stroke-width="1.0"/>
<line x1="94.83" y1="489.70" x2="94.83" y2="492.20" stroke="#000" stroke-opacity="0.7" stroke-width="1.0"/>
<line x1="100.23" y1="281.20" x2="100.23" y2="283.70" stroke="#000" stroke-opacity="0.7" stroke-width="1.0"/>
<line x1="100.23" y1="489.70" x2="100.23" y2="492.20" stroke="#000" stroke-opacity="0.7" stroke-width="1.0"/>
<line x1="104.79" y1="281.20" x2="104.79" y2="283.70" stroke="#000" stroke-opacity="0.7" stroke-width="1.0"/>
<line x1="104.79" y1="489.70" x2="104.79" y2="492.20" stroke="#000" stroke-opacity="0.7" stroke-width="1.0"/>
<line x1="108.75" y1="281.20" x2="108.75" y2="283.70" stroke="#000" stroke-opacity="0.7" stroke-width="1.0"/>
<line x1="108.75" y1="489.70" x2="108.75" y2="492.20" stroke="#000" stroke-opacity="0.7" stroke-width="1.0"/>
<line x1="112.23" y1="281.20" x2="112.23" y2="283.70" stroke="#000" stroke-opacity="0.7" stroke-width="1.0"/>
<line x1="112.23" y1="489.70" x2="112.23" y2="492.20" stroke="#000" stroke-opacity="0.7" stroke-width="1.0"/>
<line x1="115.35" y1="281.20" x2="115.35" y2="285.70" stroke="#000" stroke-opacity="0.7" stroke-width="1.0"/>
<line x1="115.35" y1="487.70" x2="115.35" y2="492.20" stroke="#000" stroke-opacity="0.7" stroke-width="1.0"/>
<line x1="135.87" y1="281.20" x2="135.87" y2="283.70" stroke="#000" stroke-opacity="0.7" stroke-width="1.0"/>
<line x1="135.87" y1="489.70" x2="135.87" y2="492.20" stroke="#000" stroke-opacity="0.7" stroke-width="1.0"/>
<line x1="147.87" y1="281.20" x2="147.87" y2="283.70" stroke="#000" stroke-opacity="0.7" stroke-width="1.0"/>
<line x1="147.87" y1="489.70" x2="147.87" y2="492.20" stroke="#000" stroke-opacity="0.7" stroke-width="1.0"/>
<line x1="156.38" y1="281.20" x2="156.38" y2="283.70" stroke="#000" stroke-opacity="0.7" stroke-width="1.0"/>
<line x1="156.38" y1="489.70" x2="156.38" y2="492.20" stroke="#000" stroke-opacity="0.7" stroke-width="1.0"/>
<line x1="162.98" y1="281.20" x2="162.98" y2="283.70" stroke="#000" stroke-opacity="0.7" stroke-width="1.0"/>
<line x1="162.98" y1="489.70" x2="162.98" y2="492.20" stroke="#000" stroke-opacity="0.7" stroke-width="1.0"/>
<line x1="168.38" y1="281.20" x2="168.38" y2="283.70" stroke="#000" stroke-opacity="0.7" stroke-width="1.0"/>
<line x1="168.38" y1="489.70" x2="168.38" y2="492.20" stroke="#000" stroke-opacity="0.7" stroke-width="1.0"/>
<line x1="172.94" y1="281.20" x2="172.94" y2="283.70" stroke="#000" stroke-opacity="0.7" stroke-width="1.0"/>
<line x1="172.94" y1="489.70" x2="172.94" y2="492.20" stroke="#000" stroke-opacity="0.7" stroke-width="1.0"/>
<line x1="176.90" y1="281.20" x2="176.90" y2="283.70" stroke="#000" stroke-opacity="0.7" stroke-width="1.0"/>
<line x1="176.90" y1="489.70" x2="176.90" y2="492.20" stroke="#000" stroke-opacity="0.7" stroke-width="1.0"/>
<line x1="180.38" y1="281.20" x2="180.38" y2="283.70" stroke="#000" stroke-opacity="0.7" stroke-width="1.0"/>
<line x1="180.38" y1="489.70" x2="180.38" y2="492.20" stroke="#000" stroke-opacity="0.7" stroke-width="1.0"/>
<line x1="183.50" y1="281.20" x2="183.50" y2="285.70" stroke="#000" stroke-opacity="0.7" stroke-width="1.0"/>
<line x1="183.50" y1="487.70" x2="183.50" y2="492.20" stroke="#000" stroke-opacity="0.7" stroke-width="1.0"/>
<line x1="204.02" y1="281.20" x2="204.02" y2="283.70" stroke="#000" stroke-opacity="0.7" stroke-width="1.0"/>
<line x1="204.02" y1="489.70" x2="204.02" y2="492.20" stroke="#000" stroke-opacity="0.7" stroke-width="1.0"/>
<line x1="216.02" y1="281.20" x2="216.02" y2="283.70" stroke="#000" stroke-opacity="0.7" stroke-width="1.0"/>
<line x1="216.02" y1="489.70" x2="216.02" y2="492.20" stroke="#000" stroke-opacity="0.7" stroke-width="1.0"/>
<line x1="224.53" y1="281.20" x2="224.53" y2="283.70" stroke="#000" stroke-opacity="0.7" stroke-width="1.0"/>
<line x1="224.53" y1="489.70" x2="224.53" y2="492.20" stroke="#000" stroke-opacity="0.7" stroke-width="1.0"/>
<line x1="231.13" y1="281.20" x2="231.13" y2="283.70" stroke="#000" stroke-opacity="0.7" stroke-width="1.0"/>
<line x1="231.13" y1="489.70" x2="231.13" y2="492.20" stroke="#000" stroke-opacity="0.7" stroke-width="1.0"/>
<line x1="236.53" y1="281.20" x2="236.53" y2="283.70" stroke="#000" stroke-opacity="0.7" stroke-width="1.0"/>
<line x1="236.53" y1="489.70" x2="236.53" y2="492.20" stroke="#000" stroke-opacity="0.7" stroke-width="1.0"/>
<line x1="241.09" y1="281.20" x2="241.09" y2="283.70" stroke="#000" stroke-opacity="0.7" stroke-width="1.0"/>
<line x1="241.09" y1="489.70" x2="241.09" y2="492.20" stroke="#000" stroke-opacity="0.7" stroke-width="1.0"/>
<line x1="245.05" y1="281.20" x2="245.05" y2="283.70" stroke="#000" stroke-opacity="0.7" stroke-width="1.0"/>
<line x1="245.05" y1="489.70" x2="245.05" y2="492.20" stroke="#000" stroke-opacity="0.7" stroke-width="1.0"/>
<line x1="248.53" y1="281.20" x2="248.53" y2="283.70" stroke="#000" stroke-opacity="0.7" stroke-width="1.0"/>
<line x1="248.53" y1="489.70" x2="248.53" y2="492.20" stroke="#000" stroke-opacity="0.7" stroke-width="1.0"/>
<line x1="251.65" y1="281.20" x2="251.65" y2="285.70" stroke="#000" stroke-opacity="0.7" stroke-width="1.0"/>
<line x1="251.65" y1="487.70" x2="251.65" y2="492.20" stroke="#000" stroke-opacity="0.7" stroke-width="1.0"/>
<line x1="272.17" y1="281.20" x2="272.17" y2="283.70" stroke="#000" stroke-opacity="0.7" stroke-width="1.0"/>
<line x1="272.17" y1="489.70" x2="272.17" y2="492.20" stroke="#000" stroke-opacity="0.7" stroke-width="1.0"/>
<line x1="284.17" y1="281.20" x2="284.17" y2="283.70" stroke="#000" stroke-opacity="0.7" stroke-width="1.0"/>
<line x1="284.17" y1="489.70" x2="284.17" y2="492.20" stroke="#000" stroke-opacity="0.7" stroke-width="1.0"/>
<line x1="292.68" y1="281.20" x2="292.68" y2="283.70" stroke="#000" stroke-opacity="0.7" stroke-width="1.0"/>
<line x1="292.68" y1="489.70" x2="292.68" y2="492.20" stroke="#000" stroke-opacity="0.7" stroke-width="1.0"/>
<line x1="299.28" y1="281.20" x2="299.28" y2="283.70" stroke="#000" stroke-opacity="0.7" stroke-width="1.0"/>
<line x1="299.28" y1="489.70" x2="299.28" y2="492.20" stroke="#000" stroke-opacity="0.7" stroke-width="1.0"/>
<line x1="304.68" y1="281.20" x2="304.68" y2="283.70" stroke="#000" stroke-opacity="0.7" stroke-width="1.0"/>
<line x1="304.68" y1="489.70" x2="304.68" y2="492.20" stroke="#000" stroke-opacity="0.7" stroke-width="1.0"/>
<line x1="309.24" y1="281.20" x2="309.24" y2="283.70" stroke="#000" stroke-opacity="0.7" stroke-width="1.0"/>
<line x1="309.24" y1="489.70" x2="309.24" y2="492.20" stroke="#000" stroke-opacity="0.7" stroke-width="1.0"/>
<line x1="313.20" y1="281.20" x2="313.20" y2="283.70" stroke="#000" stroke-opacity="0.7" stroke-width="1.0"/>
<line x1="313.20" y1="489.70" x2="313.20" y2="492.20" stroke="#000" stroke-opacity="0.7" stroke-width="1.0"/>
<line x1="316.68" y1="281.20" x2="316.68" y2="283.70" stroke="#000" stroke-opacity="0.7" stroke-width="1.0"/>
<line x1="316.68" y1="489.70" x2="316.68" y2="492.20" stroke="#000" stroke-opacity="0.7" stroke-width="1.0"/>
<line x1="319.80" y1="281.20" x2="319.80" y2="285.70" stroke="#000" stroke-opacity="0.7" stroke-width="1.0"/>
<line x1="319.80" y1="487.70" x2="319.80" y2="492.20" stroke="#000" stroke-opacity="0.7" stroke-width="1.0"/>
<line x1="36.00" y1="490.00" x2="41.00" y2="490.00" stroke="#000" stroke-opacity="0.4" stroke-width="1.0"/>
<line x1="325.90" y1="490.00" x2="330.90" y2="490.00" stroke="#000" stroke-opacity="0.8" stroke-width="1.0"/>
<line x1="36.00" y1="456.43" x2="38.60" y2="456.43" stroke="#000" stroke-opacity="0.4" stroke-width="1.0"/>
<line x1="328.30" y1="456.43" x2="330.90" y2="456.43" stroke="#000" stroke-opacity="0.8" stroke-width="1.0"/>
<line x1="36.00" y1="422.86" x2="41.00" y2="422.86" stroke="#000" stroke-opacity="0.4" stroke-width="1.0"/>
<line x1="325.90" y1="422.86" x2="330.90" y2="422.86" stroke="#000" stroke-opacity="0.8" stroke-width="1.0"/>
<line x1="36.00" y1="389.29" x2="38.60" y2="389.29" stroke="#000" stroke-opacity="0.4" stroke-width="1.0"/>
<line x1="328.30" y1="389.29" x2="330.90" y2="389.29" stroke="#000" stroke-opacity="0.8" stroke-width="1.0"/>
<line x1="36.00" y1="355.72" x2="41.00" y2="355.72" stroke="#000" stroke-opacity="0.4" stroke-width="1.0"/>
<line x1="325.90" y1="355.72" x2="330.90" y2="355.72" stroke="#000" stroke-opacity="0.8" stroke-width="1.0"/>
<line x1="36.00" y1="322.15" x2="38.60" y2="322.15" stroke="#000" stroke-opacity="0.4" stroke-width="1.0"/>
<line x1="328.30" y1="322.15" x2="330.90" y2="322.15" stroke="#000" stroke-opacity="0.8" stroke-width="1.0"/>
<line x1="36.00" y1="288.58" x2="41.00" y2="288.58" stroke="#000" stroke-opacity="0.4" stroke-width="1.0"/>
<line x1="325.90" y1="288.58" x2="330.90" y2="288.58" stroke="#000" stroke-opacity="0.8" stroke-width="1.0"/>
<line x1="331.50" y1="320.90" x2="334.30" y2="320.90" stroke="#400" stroke-opacity="0.7" stroke-width="0.7"/>
<line x1="349.20" y1="320.90" x2="352.00" y2="320.90" stroke="#400" stroke-opacity="0.7" stroke-width="0.7"/>
<line x1="331.50" y1="353.20" x2="334.30" y2="353.20" stroke="#400" stroke-opacity="0.7" stroke-width="0.7"/>
<line x1="349.20" y1="353.20" x2="352.00" y2="353.20" stroke="#400" stroke-opacity="0.7" stroke-width="0.7"/>
<line x1="331.50" y1="385.50" x2="334.30" y2="385.50" stroke="#400" stroke-opacity="0.7" stroke-width="0.7"/>
<line x1="349.20" y1="385.50" x2="352.00" y2="385.50" stroke="#400" stroke-opacity="0.7" stroke-width="0.7"/>
<line x1="331.50" y1="417.80" x2="334.30" y2="417.80" stroke="#400" stroke-opacity="0.7" stroke-width="0.7"/>
<line x1="349.20" y1="417.80" x2="352.00" y2="417.80" stroke="#400" stroke-opacity="0.7" stroke-width="0.7"/>
<line x1="331.50" y1="450.10" x2="334.30" y2="450.10" stroke="#400" stroke-opacity="0.7" stroke-width="0.7"/>
<line x1="349.20" y1="450.10" x2="352.00" y2="450.10" stroke="#400" stroke-opacity="0.7" stroke-width="0.7"/>
<line x1="331.50" y1="482.40" x2="334.30" y2="482.40" stroke="#400" stroke-opacity="0.7" stroke-width="0.7"/>
<line x1="349.20" y1="482.40" x2="352.00" y2="482.40" stroke="#400" stroke-opacity="0.7" stroke-width="0.7"/>
<circle cx="298" cy="286.4" r="4.8" fill="#000"/>
</g>
<g fill="#000" stroke="#000" stroke-width="0.35" opacity="0.999">
<text x="100.3" y="227.3" font-size="13" text-anchor="middle" font-family="'Liberation Sans', sans-serif" font-weight="bold">0.5</text>
<text x="177.8" y="227.3" font-size="13" text-anchor="middle" font-family="'Liberation Sans', sans-serif" font-weight="bold">1</text>
<text x="255.6" y="227.3" font-size="13" text-anchor="middle" font-family="'Liberation Sans', sans-serif" font-weight="bold">2</text>
<text x="165.8" y="252.8" font-size="12.5" text-anchor="start" font-family="'Liberation Serif', sans-serif" font-weight="bold">s</text>
<text x="178.3" y="253.0" font-size="15.5" text-anchor="start" font-family="'Liberation Serif', sans-serif" font-weight="bold">(</text>
<text x="183.8" y="252.8" font-size="12.5" text-anchor="start" font-family="'Liberation Serif', sans-serif" font-weight="bold">R</text>
<text x="192.4" y="257.6" font-size="9.5" text-anchor="start" font-family="'Liberation Serif', sans-serif" font-weight="bold">E</text>
<text x="198.8" y="253.0" font-size="15.5" text-anchor="start" font-family="'Liberation Serif', sans-serif" font-weight="bold">)</text>
<text x="364.3" y="40.2" font-size="10.2" text-anchor="middle" font-family="'Liberation Sans', sans-serif" font-weight="bold" transform="rotate(-90 364.3 40.2)">1.6×10<tspan font-size="7" dy="-4" letter-spacing="0">4</tspan></text>
<text x="364.3" y="104.8" font-size="10.2" text-anchor="middle" font-family="'Liberation Sans', sans-serif" font-weight="bold" transform="rotate(-90 364.3 104.8)">1.4×10<tspan font-size="7" dy="-4" letter-spacing="0">4</tspan></text>
<text x="364.3" y="169.4" font-size="10.2" text-anchor="middle" font-family="'Liberation Sans', sans-serif" font-weight="bold" transform="rotate(-90 364.3 169.4)">1.2×10<tspan font-size="7" dy="-4" letter-spacing="0">4</tspan></text>
<text x="374.0" y="15.4" font-size="10.5" text-anchor="start" font-family="'Liberation Serif', sans-serif" font-weight="bold" transform="rotate(-90 374.0 15.4)">χ</text>
<text x="368.3" y="4.6" font-size="7.5" text-anchor="start" font-family="'Liberation Sans', sans-serif" font-weight="bold" transform="rotate(-90 368.3 4.6)">2</text>
<text x="478.3" y="227.3" font-size="13" text-anchor="middle" font-family="'Liberation Sans', sans-serif" font-weight="bold">0.5</text>
<text x="555.8" y="227.3" font-size="13" text-anchor="middle" font-family="'Liberation Sans', sans-serif" font-weight="bold">1</text>
<text x="633.6" y="227.3" font-size="13" text-anchor="middle" font-family="'Liberation Sans', sans-serif" font-weight="bold">2</text>
<text x="543.8" y="252.8" font-size="12.5" text-anchor="start" font-family="'Liberation Serif', sans-serif" font-weight="bold">s</text>
<text x="556.3" y="253.0" font-size="15.5" text-anchor="start" font-family="'Liberation Serif', sans-serif" font-weight="bold">(</text>
<text x="561.8" y="252.8" font-size="12.5" text-anchor="start" font-family="'Liberation Serif', sans-serif" font-weight="bold">R</text>
<text x="570.4" y="257.6" font-size="9.5" text-anchor="start" font-family="'Liberation Serif', sans-serif" font-weight="bold">E</text>
<text x="576.8" y="253.0" font-size="15.5" text-anchor="start" font-family="'Liberation Serif', sans-serif" font-weight="bold">)</text>
<text x="742.3" y="40.2" font-size="10.2" text-anchor="middle" font-family="'Liberation Sans', sans-serif" font-weight="bold" transform="rotate(-90 742.3 40.2)">1.6×10<tspan font-size="7" dy="-4" letter-spacing="0">4</tspan></text>
<text x="742.3" y="104.8" font-size="10.2" text-anchor="middle" font-family="'Liberation Sans', sans-serif" font-weight="bold" transform="rotate(-90 742.3 104.8)">1.4×10<tspan font-size="7" dy="-4" letter-spacing="0">4</tspan></text>
<text x="742.3" y="169.4" font-size="10.2" text-anchor="middle" font-family="'Liberation Sans', sans-serif" font-weight="bold" transform="rotate(-90 742.3 169.4)">1.2×10<tspan font-size="7" dy="-4" letter-spacing="0">4</tspan></text>
<text x="752.0" y="15.4" font-size="10.5" text-anchor="start" font-family="'Liberation Serif', sans-serif" font-weight="bold" transform="rotate(-90 752.0 15.4)">χ</text>
<text x="746.3" y="4.6" font-size="7.5" text-anchor="start" font-family="'Liberation Sans', sans-serif" font-weight="bold" transform="rotate(-90 746.3 4.6)">2</text>
<text x="364.3" y="320.9" font-size="10.2" text-anchor="middle" font-family="'Liberation Sans', sans-serif" font-weight="bold" transform="rotate(-90 364.3 320.9)">1.6×10<tspan font-size="7" dy="-4" letter-spacing="0">4</tspan></text>
<text x="364.3" y="385.5" font-size="10.2" text-anchor="middle" font-family="'Liberation Sans', sans-serif" font-weight="bold" transform="rotate(-90 364.3 385.5)">1.4×10<tspan font-size="7" dy="-4" letter-spacing="0">4</tspan></text>
<text x="364.3" y="450.1" font-size="10.2" text-anchor="middle" font-family="'Liberation Sans', sans-serif" font-weight="bold" transform="rotate(-90 364.3 450.1)">1.2×10<tspan font-size="7" dy="-4" letter-spacing="0">4</tspan></text>
<text x="374.0" y="296.1" font-size="10.5" text-anchor="start" font-family="'Liberation Serif', sans-serif" font-weight="bold" transform="rotate(-90 374.0 296.1)">χ</text>
<text x="368.3" y="285.3" font-size="7.5" text-anchor="start" font-family="'Liberation Sans', sans-serif" font-weight="bold" transform="rotate(-90 368.3 285.3)">2</text>
<text x="29.0" y="9.7" font-size="13" text-anchor="middle" font-family="'Liberation Sans', sans-serif" font-weight="bold" transform="rotate(-90 29.0 9.7)">1</text>
<text x="29.0" y="58.6" font-size="13" text-anchor="middle" font-family="'Liberation Sans', sans-serif" font-weight="bold" transform="rotate(-90 29.0 58.6)">0.1</text>
<text x="29.0" y="106.6" font-size="13" text-anchor="middle" font-family="'Liberation Sans', sans-serif" font-weight="bold" transform="rotate(-90 29.0 106.6)">0.01</text>
<text x="29.0" y="153.0" font-size="13" text-anchor="middle" font-family="'Liberation Sans', sans-serif" font-weight="bold" transform="rotate(-90 29.0 153.0)">10<tspan font-size="9.5" dy="-5" letter-spacing="0.6">−3</tspan></text>
<text x="29.0" y="200.6" font-size="13" text-anchor="middle" font-family="'Liberation Sans', sans-serif" font-weight="bold" transform="rotate(-90 29.0 200.6)">10<tspan font-size="9.5" dy="-5" letter-spacing="0.6">−4</tspan></text>
<text x="8.3" y="105.6" font-size="13" text-anchor="middle" font-family="'Liberation Serif', sans-serif" font-weight="bold" transform="rotate(-90 8.3 105.6)">q</text>
<text x="407.0" y="209.3" font-size="13" text-anchor="middle" font-family="'Liberation Sans', sans-serif" font-weight="bold" transform="rotate(-90 407.0 209.3)">0</text>
<text x="407.0" y="142.1" font-size="13" text-anchor="middle" font-family="'Liberation Sans', sans-serif" font-weight="bold" transform="rotate(-90 407.0 142.1)">2</text>
<text x="407.0" y="74.9" font-size="13" text-anchor="middle" font-family="'Liberation Sans', sans-serif" font-weight="bold" transform="rotate(-90 407.0 74.9)">4</text>
<text x="407.0" y="8.5" font-size="13" text-anchor="middle" font-family="'Liberation Sans', sans-serif" font-weight="bold" transform="rotate(-90 407.0 8.5)">6</text>
<text x="387.5" y="106.5" font-size="13" text-anchor="middle" font-family="'Liberation Serif', serif" font-weight="bold" font-style="italic" transform="rotate(-90 387.5 106.5)">θ</text>
<text x="29.0" y="490.0" font-size="13" text-anchor="middle" font-family="'Liberation Sans', sans-serif" font-weight="bold" transform="rotate(-90 29.0 490.0)">0</text>
<text x="29.0" y="422.9" font-size="13" text-anchor="middle" font-family="'Liberation Sans', sans-serif" font-weight="bold" transform="rotate(-90 29.0 422.9)">2</text>
<text x="29.0" y="355.7" font-size="13" text-anchor="middle" font-family="'Liberation Sans', sans-serif" font-weight="bold" transform="rotate(-90 29.0 355.7)">4</text>
<text x="29.0" y="288.6" font-size="13" text-anchor="middle" font-family="'Liberation Sans', sans-serif" font-weight="bold" transform="rotate(-90 29.0 288.6)">6</text>
<text x="9.8" y="387.5" font-size="13" text-anchor="middle" font-family="'Liberation Serif', serif" font-weight="bold" font-style="italic" transform="rotate(-90 9.8 387.5)">θ</text>
<text x="50.5" y="508.2" font-size="13" text-anchor="middle" font-family="'Liberation Sans', sans-serif" font-weight="bold">10<tspan font-size="9.5" dy="-5" letter-spacing="0.6">−4</tspan></text>
<text x="118.4" y="508.2" font-size="13" text-anchor="middle" font-family="'Liberation Sans', sans-serif" font-weight="bold">10<tspan font-size="9.5" dy="-5" letter-spacing="0.6">−3</tspan></text>
<text x="184.0" y="508.2" font-size="13" text-anchor="middle" font-family="'Liberation Sans', sans-serif" font-weight="bold">0.01</text>
<text x="251.0" y="508.2" font-size="13" text-anchor="middle" font-family="'Liberation Sans', sans-serif" font-weight="bold">0.1</text>
<text x="319.5" y="508.2" font-size="13" text-anchor="middle" font-family="'Liberation Sans', sans-serif" font-weight="bold">1</text>
<text x="185.0" y="533.5" font-size="13" text-anchor="middle" font-family="'Liberation Serif', sans-serif" font-weight="bold">q</text>
</g>
</svg></body></html>
